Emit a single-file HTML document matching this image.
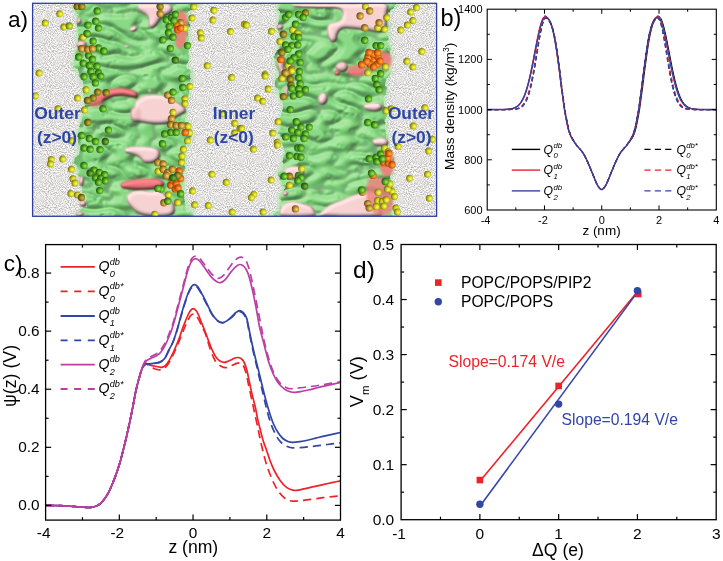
<!DOCTYPE html>
<html><head><meta charset="utf-8"><title>figure</title>
<style>
html,body{margin:0;padding:0;background:#fff;}
body{width:723px;height:561px;overflow:hidden;font-family:"Liberation Sans",sans-serif;}
svg{display:block;position:absolute;left:0;top:0;will-change:transform;}
svg text{font-family:"Liberation Sans",sans-serif;}
</style></head><body>
<svg width="723" height="561" viewBox="0 0 723 561">
<rect x="0" y="0" width="723" height="561" fill="#fff"/>
<g id="panela">
<defs>
<filter id="fnoise" x="0" y="0" width="100%" height="100%" color-interpolation-filters="sRGB">
 <feTurbulence type="fractalNoise" baseFrequency="0.95" numOctaves="1" seed="7" result="n"/>
 <feColorMatrix type="matrix" values="0.78 0 0 0 0.505  0.7683 0 0 0 0.499  0.7683 0 0 0 0.499  0 0 0 0 1"/>
</filter>
<filter id="fmem" x="-5%" y="-5%" width="110%" height="110%" color-interpolation-filters="sRGB">
 <feTurbulence type="turbulence" baseFrequency="0.036 0.072" numOctaves="1" seed="5" result="t"/>
 <feColorMatrix in="t" type="matrix" values="0 0 0 0 0  0 0 0 0 0  0 0 0 0 0  3.0 0 0 0 0" result="h0"/>
 <feGaussianBlur in="h0" stdDeviation="0.9" result="h"/>
 <feDiffuseLighting in="h" surfaceScale="3.4" diffuseConstant="1.0" lighting-color="#ffffff" result="lit">
   <feDistantLight azimuth="235" elevation="55"/>
 </feDiffuseLighting>
 <feComponentTransfer in="lit" result="col">
   <feFuncR type="table" tableValues="0.30 0.36 0.43 0.50 0.67"/>
   <feFuncG type="table" tableValues="0.46 0.58 0.72 0.83 0.915"/>
   <feFuncB type="table" tableValues="0.29 0.35 0.42 0.485 0.64"/>
 </feComponentTransfer>
 <feComponentTransfer in="h" result="cr0">
   <feFuncR type="discrete" tableValues="0.36"/><feFuncG type="discrete" tableValues="0.47"/><feFuncB type="discrete" tableValues="0.36"/>
   <feFuncA type="table" tableValues="0.5 0.32 0.08 0 0 0 0 0 0 0 0 0 0 0 0 0"/>
 </feComponentTransfer>
 <feGaussianBlur in="cr0" stdDeviation="0.6" result="cr"/>
 <feComposite in="cr" in2="col" operator="over" result="col2"/>
 <feTurbulence type="fractalNoise" baseFrequency="0.10" numOctaves="2" seed="3" result="t2"/>
 <feDisplacementMap in="SourceGraphic" in2="t2" scale="10" xChannelSelector="R" yChannelSelector="G" result="mask"/>
 <feGaussianBlur in="mask" stdDeviation="0.7" result="maskb"/>
 <feComposite in="col2" in2="maskb" operator="in"/>
</filter>
<filter id="fpink" x="-20%" y="-20%" width="140%" height="140%" color-interpolation-filters="sRGB">
 <feGaussianBlur in="SourceAlpha" stdDeviation="2.2" result="b"/>
 <feDiffuseLighting in="b" surfaceScale="2.8" diffuseConstant="1.08" lighting-color="#ffffff" result="lit">
   <feDistantLight azimuth="235" elevation="58"/>
 </feDiffuseLighting>
 <feGaussianBlur in="SourceGraphic" stdDeviation="0.8" result="sg"/>
 <feComposite in="lit" in2="sg" operator="arithmetic" k1="1.12" k2="0" k3="0" k4="0" result="m"/>
 <feComposite in="m" in2="sg" operator="in"/>
</filter>
<filter id="ffringe" x="-5%" y="-5%" width="110%" height="110%" color-interpolation-filters="sRGB">
 <feTurbulence type="fractalNoise" baseFrequency="0.10" numOctaves="2" seed="3" result="t2"/>
 <feDisplacementMap in="SourceGraphic" in2="t2" scale="10" xChannelSelector="R" yChannelSelector="G" result="m"/>
 <feGaussianBlur in="m" stdDeviation="1.4"/>
</filter>
<filter id="fblur1"><feGaussianBlur stdDeviation="0.8"/></filter>

<radialGradient id="gy" cx="0.62" cy="0.56" r="0.68" fx="0.67" fy="0.57"><stop offset="0" stop-color="#fbfb80"/><stop offset="0.28" stop-color="#e6e62e"/><stop offset="0.54" stop-color="#c2c11c"/><stop offset="0.80" stop-color="#858412"/><stop offset="1" stop-color="#56560e"/></radialGradient>
<radialGradient id="gg" cx="0.62" cy="0.56" r="0.68" fx="0.67" fy="0.57"><stop offset="0" stop-color="#aee45c"/><stop offset="0.28" stop-color="#74c62c"/><stop offset="0.54" stop-color="#479c1f"/><stop offset="0.80" stop-color="#2a6a14"/><stop offset="1" stop-color="#1b480e"/></radialGradient>
<radialGradient id="go" cx="0.62" cy="0.56" r="0.68" fx="0.67" fy="0.57"><stop offset="0" stop-color="#ffb850"/><stop offset="0.28" stop-color="#f88a20"/><stop offset="0.54" stop-color="#e06410"/><stop offset="0.80" stop-color="#a8440c"/><stop offset="1" stop-color="#6e2c08"/></radialGradient>
<radialGradient id="gt" cx="0.62" cy="0.56" r="0.68" fx="0.67" fy="0.57"><stop offset="0" stop-color="#f2d878"/><stop offset="0.28" stop-color="#dcb044"/><stop offset="0.54" stop-color="#b4882e"/><stop offset="0.80" stop-color="#7c5a1c"/><stop offset="1" stop-color="#523c12"/></radialGradient>
<radialGradient id="gb" cx="0.62" cy="0.56" r="0.68" fx="0.67" fy="0.57"><stop offset="0" stop-color="#d2c248"/><stop offset="0.28" stop-color="#aa9a28"/><stop offset="0.54" stop-color="#84781e"/><stop offset="0.80" stop-color="#564e12"/><stop offset="1" stop-color="#3a340c"/></radialGradient>
<radialGradient id="gl" cx="0.62" cy="0.56" r="0.68" fx="0.67" fy="0.57"><stop offset="0" stop-color="#eaf264"/><stop offset="0.28" stop-color="#c2d82e"/><stop offset="0.54" stop-color="#94b21e"/><stop offset="0.80" stop-color="#5e7c12"/><stop offset="1" stop-color="#3c520c"/></radialGradient>
<radialGradient id="gd" cx="0.62" cy="0.56" r="0.68" fx="0.67" fy="0.57"><stop offset="0" stop-color="#86c24e"/><stop offset="0.28" stop-color="#5a9a2a"/><stop offset="0.54" stop-color="#3f741c"/><stop offset="0.80" stop-color="#285010"/><stop offset="1" stop-color="#1a380a"/></radialGradient>
<clipPath id="ca"><rect x="32.6" y="3.3" width="404.0" height="213.0"/></clipPath>
</defs>
<g clip-path="url(#ca)">
<rect x="32.6" y="3.3" width="404.0" height="213.0" fill="#f4f4f4"/>
<rect x="32.6" y="3.3" width="404.0" height="213.0" fill="#fff" filter="url(#fnoise)"/>
<g filter="url(#ffringe)" opacity="0.75"><path d="M76.00,0.00 C75.83,1.67 74.83,6.67 75.00,10.00 C75.17,13.33 76.50,16.67 77.00,20.00 C77.50,23.33 78.00,26.67 78.00,30.00 C78.00,33.33 77.50,36.67 77.00,40.00 C76.50,43.33 75.50,47.17 75.00,50.00 C74.50,52.83 74.17,54.50 74.00,57.00 C73.83,59.50 73.17,62.50 74.00,65.00 C74.83,67.50 77.67,69.50 79.00,72.00 C80.33,74.50 81.00,77.00 82.00,80.00 C83.00,83.00 84.00,86.67 85.00,90.00 C86.00,93.33 88.00,97.00 88.00,100.00 C88.00,103.00 85.83,105.50 85.00,108.00 C84.17,110.50 83.83,112.17 83.00,115.00 C82.17,117.83 81.00,121.67 80.00,125.00 C79.00,128.33 77.33,132.17 77.00,135.00 C76.67,137.83 77.50,139.50 78.00,142.00 C78.50,144.50 80.17,147.33 80.00,150.00 C79.83,152.67 77.73,155.50 77.00,158.00 C76.27,160.50 75.27,162.67 75.60,165.00 C75.93,167.33 77.77,169.50 79.00,172.00 C80.23,174.50 82.33,177.00 83.00,180.00 C83.67,183.00 82.67,187.00 83.00,190.00 C83.33,193.00 84.50,195.50 85.00,198.00 C85.50,200.50 86.17,201.33 86.00,205.00 C85.83,208.67 67.00,217.50 84.00,220.00 C101.00,222.50 170.67,221.67 188.00,220.00 C205.33,218.33 188.33,212.83 188.00,210.00 C187.67,207.17 187.00,205.50 186.00,203.00 C185.00,200.50 182.38,198.83 182.00,195.00 C181.62,191.17 183.20,184.17 183.70,180.00 C184.20,175.83 184.78,173.33 185.00,170.00 C185.22,166.67 185.00,163.33 185.00,160.00 C185.00,156.67 184.50,153.00 185.00,150.00 C185.50,147.00 187.00,144.50 188.00,142.00 C189.00,139.50 190.67,137.33 191.00,135.00 C191.33,132.67 191.00,130.50 190.00,128.00 C189.00,125.50 185.83,123.00 185.00,120.00 C184.17,117.00 184.72,113.33 185.00,110.00 C185.28,106.67 186.20,102.50 186.70,100.00 C187.20,97.50 187.45,97.50 188.00,95.00 C188.55,92.50 189.67,88.33 190.00,85.00 C190.33,81.67 190.33,78.33 190.00,75.00 C189.67,71.67 188.33,68.33 188.00,65.00 C187.67,61.67 187.83,58.33 188.00,55.00 C188.17,51.67 189.00,49.17 189.00,45.00 C189.00,40.83 188.00,35.00 188.00,30.00 C188.00,25.00 189.00,20.00 189.00,15.00 C189.00,10.00 206.83,2.50 188.00,0.00 C169.17,-2.50 94.67,0.00 76.00,0.00Z" fill="#b4e4ae" stroke="#b4e4ae" stroke-width="5"/><path d="M278.00,0.00 C278.17,2.50 279.17,10.83 279.00,15.00 C278.83,19.17 277.17,21.67 277.00,25.00 C276.83,28.33 277.67,31.67 278.00,35.00 C278.33,38.33 279.17,41.67 279.00,45.00 C278.83,48.33 277.33,51.67 277.00,55.00 C276.67,58.33 276.83,61.67 277.00,65.00 C277.17,68.33 277.83,71.67 278.00,75.00 C278.17,78.33 277.83,81.67 278.00,85.00 C278.17,88.33 278.00,91.67 279.00,95.00 C280.00,98.33 283.50,102.17 284.00,105.00 C284.50,107.83 282.87,109.50 282.00,112.00 C281.13,114.50 279.13,117.00 278.80,120.00 C278.47,123.00 279.63,126.67 280.00,130.00 C280.37,133.33 280.17,136.67 281.00,140.00 C281.83,143.33 284.33,146.67 285.00,150.00 C285.67,153.33 285.67,157.00 285.00,160.00 C284.33,163.00 281.90,165.00 281.00,168.00 C280.10,171.00 279.60,175.17 279.60,178.00 C279.60,180.83 280.27,183.00 281.00,185.00 C281.73,187.00 283.83,188.17 284.00,190.00 C284.17,191.83 282.73,194.00 282.00,196.00 C281.27,198.00 279.93,199.67 279.60,202.00 C279.27,204.33 279.77,207.00 280.00,210.00 C280.23,213.00 262.83,218.33 281.00,220.00 C299.17,221.67 370.83,221.17 389.00,220.00 C407.17,218.83 389.67,215.50 390.00,213.00 C390.33,210.50 390.67,208.00 391.00,205.00 C391.33,202.00 392.00,198.33 392.00,195.00 C392.00,191.67 391.33,188.33 391.00,185.00 C390.67,181.67 389.83,178.33 390.00,175.00 C390.17,171.67 391.83,168.33 392.00,165.00 C392.17,161.67 391.83,158.33 391.00,155.00 C390.17,151.67 387.83,148.33 387.00,145.00 C386.17,141.67 386.33,138.33 386.00,135.00 C385.67,131.67 385.00,128.33 385.00,125.00 C385.00,121.67 385.92,118.33 386.00,115.00 C386.08,111.67 385.67,108.33 385.50,105.00 C385.33,101.67 385.08,98.33 385.00,95.00 C384.92,91.67 384.67,88.33 385.00,85.00 C385.33,81.67 386.17,78.33 387.00,75.00 C387.83,71.67 389.50,68.33 390.00,65.00 C390.50,61.67 390.17,58.33 390.00,55.00 C389.83,51.67 389.33,48.33 389.00,45.00 C388.67,41.67 388.33,38.33 388.00,35.00 C387.67,31.67 387.17,28.33 387.00,25.00 C386.83,21.67 387.00,19.17 387.00,15.00 C387.00,10.83 405.17,2.50 387.00,0.00 C368.83,-2.50 296.17,0.00 278.00,0.00Z" fill="#b4e4ae" stroke="#b4e4ae" stroke-width="5"/></g>
<g filter="url(#fmem)"><path d="M76.00,0.00 C75.83,1.67 74.83,6.67 75.00,10.00 C75.17,13.33 76.50,16.67 77.00,20.00 C77.50,23.33 78.00,26.67 78.00,30.00 C78.00,33.33 77.50,36.67 77.00,40.00 C76.50,43.33 75.50,47.17 75.00,50.00 C74.50,52.83 74.17,54.50 74.00,57.00 C73.83,59.50 73.17,62.50 74.00,65.00 C74.83,67.50 77.67,69.50 79.00,72.00 C80.33,74.50 81.00,77.00 82.00,80.00 C83.00,83.00 84.00,86.67 85.00,90.00 C86.00,93.33 88.00,97.00 88.00,100.00 C88.00,103.00 85.83,105.50 85.00,108.00 C84.17,110.50 83.83,112.17 83.00,115.00 C82.17,117.83 81.00,121.67 80.00,125.00 C79.00,128.33 77.33,132.17 77.00,135.00 C76.67,137.83 77.50,139.50 78.00,142.00 C78.50,144.50 80.17,147.33 80.00,150.00 C79.83,152.67 77.73,155.50 77.00,158.00 C76.27,160.50 75.27,162.67 75.60,165.00 C75.93,167.33 77.77,169.50 79.00,172.00 C80.23,174.50 82.33,177.00 83.00,180.00 C83.67,183.00 82.67,187.00 83.00,190.00 C83.33,193.00 84.50,195.50 85.00,198.00 C85.50,200.50 86.17,201.33 86.00,205.00 C85.83,208.67 67.00,217.50 84.00,220.00 C101.00,222.50 170.67,221.67 188.00,220.00 C205.33,218.33 188.33,212.83 188.00,210.00 C187.67,207.17 187.00,205.50 186.00,203.00 C185.00,200.50 182.38,198.83 182.00,195.00 C181.62,191.17 183.20,184.17 183.70,180.00 C184.20,175.83 184.78,173.33 185.00,170.00 C185.22,166.67 185.00,163.33 185.00,160.00 C185.00,156.67 184.50,153.00 185.00,150.00 C185.50,147.00 187.00,144.50 188.00,142.00 C189.00,139.50 190.67,137.33 191.00,135.00 C191.33,132.67 191.00,130.50 190.00,128.00 C189.00,125.50 185.83,123.00 185.00,120.00 C184.17,117.00 184.72,113.33 185.00,110.00 C185.28,106.67 186.20,102.50 186.70,100.00 C187.20,97.50 187.45,97.50 188.00,95.00 C188.55,92.50 189.67,88.33 190.00,85.00 C190.33,81.67 190.33,78.33 190.00,75.00 C189.67,71.67 188.33,68.33 188.00,65.00 C187.67,61.67 187.83,58.33 188.00,55.00 C188.17,51.67 189.00,49.17 189.00,45.00 C189.00,40.83 188.00,35.00 188.00,30.00 C188.00,25.00 189.00,20.00 189.00,15.00 C189.00,10.00 206.83,2.50 188.00,0.00 C169.17,-2.50 94.67,0.00 76.00,0.00Z" fill="#000"/><path d="M278.00,0.00 C278.17,2.50 279.17,10.83 279.00,15.00 C278.83,19.17 277.17,21.67 277.00,25.00 C276.83,28.33 277.67,31.67 278.00,35.00 C278.33,38.33 279.17,41.67 279.00,45.00 C278.83,48.33 277.33,51.67 277.00,55.00 C276.67,58.33 276.83,61.67 277.00,65.00 C277.17,68.33 277.83,71.67 278.00,75.00 C278.17,78.33 277.83,81.67 278.00,85.00 C278.17,88.33 278.00,91.67 279.00,95.00 C280.00,98.33 283.50,102.17 284.00,105.00 C284.50,107.83 282.87,109.50 282.00,112.00 C281.13,114.50 279.13,117.00 278.80,120.00 C278.47,123.00 279.63,126.67 280.00,130.00 C280.37,133.33 280.17,136.67 281.00,140.00 C281.83,143.33 284.33,146.67 285.00,150.00 C285.67,153.33 285.67,157.00 285.00,160.00 C284.33,163.00 281.90,165.00 281.00,168.00 C280.10,171.00 279.60,175.17 279.60,178.00 C279.60,180.83 280.27,183.00 281.00,185.00 C281.73,187.00 283.83,188.17 284.00,190.00 C284.17,191.83 282.73,194.00 282.00,196.00 C281.27,198.00 279.93,199.67 279.60,202.00 C279.27,204.33 279.77,207.00 280.00,210.00 C280.23,213.00 262.83,218.33 281.00,220.00 C299.17,221.67 370.83,221.17 389.00,220.00 C407.17,218.83 389.67,215.50 390.00,213.00 C390.33,210.50 390.67,208.00 391.00,205.00 C391.33,202.00 392.00,198.33 392.00,195.00 C392.00,191.67 391.33,188.33 391.00,185.00 C390.67,181.67 389.83,178.33 390.00,175.00 C390.17,171.67 391.83,168.33 392.00,165.00 C392.17,161.67 391.83,158.33 391.00,155.00 C390.17,151.67 387.83,148.33 387.00,145.00 C386.17,141.67 386.33,138.33 386.00,135.00 C385.67,131.67 385.00,128.33 385.00,125.00 C385.00,121.67 385.92,118.33 386.00,115.00 C386.08,111.67 385.67,108.33 385.50,105.00 C385.33,101.67 385.08,98.33 385.00,95.00 C384.92,91.67 384.67,88.33 385.00,85.00 C385.33,81.67 386.17,78.33 387.00,75.00 C387.83,71.67 389.50,68.33 390.00,65.00 C390.50,61.67 390.17,58.33 390.00,55.00 C389.83,51.67 389.33,48.33 389.00,45.00 C388.67,41.67 388.33,38.33 388.00,35.00 C387.67,31.67 387.17,28.33 387.00,25.00 C386.83,21.67 387.00,19.17 387.00,15.00 C387.00,10.83 405.17,2.50 387.00,0.00 C368.83,-2.50 296.17,0.00 278.00,0.00Z" fill="#000"/></g>
<g filter="url(#fpink)"><path d="M137.00,3.00 C139.17,3.00 145.50,3.00 150.00,3.00 C154.50,3.00 160.33,2.67 164.00,3.00 C167.67,3.33 170.50,3.67 172.00,5.00 C173.50,6.33 173.50,9.33 173.00,11.00 C172.50,12.67 170.67,14.00 169.00,15.00 C167.33,16.00 164.50,16.00 163.00,17.00 C161.50,18.00 161.00,19.50 160.00,21.00 C159.00,22.50 158.33,24.67 157.00,26.00 C155.67,27.33 153.50,28.83 152.00,29.00 C150.50,29.17 148.67,28.33 148.00,27.00 C147.33,25.67 148.33,22.83 148.00,21.00 C147.67,19.17 147.17,17.33 146.00,16.00 C144.83,14.67 142.50,14.17 141.00,13.00 C139.50,11.83 137.67,10.67 137.00,9.00 C136.33,7.33 137.00,4.00 137.00,3.00Z" fill="#f0cccc" opacity="1.00"/><ellipse cx="133.5" cy="29.0" rx="5.0" ry="3.5" fill="#f0cccc" opacity="1.00" transform="rotate(-20.0 133.5 29.0)"/><ellipse cx="126.6" cy="46.4" rx="3.0" ry="2.0" fill="#f0cccc" opacity="1.00" transform="rotate(0.0 126.6 46.4)"/><ellipse cx="81.5" cy="44.5" rx="6.0" ry="4.5" fill="#e6baba" opacity="1.00" transform="rotate(0.0 81.5 44.5)"/><ellipse cx="79.0" cy="21.0" rx="3.0" ry="4.0" fill="#e6baba" opacity="1.00" transform="rotate(0.0 79.0 21.0)"/><ellipse cx="81.0" cy="7.0" rx="4.0" ry="3.0" fill="#e6baba" opacity="1.00" transform="rotate(0.0 81.0 7.0)"/><path d="M135.00,101.00 C136.17,100.17 139.17,97.17 142.00,96.00 C144.83,94.83 148.33,94.17 152.00,94.00 C155.67,93.83 160.67,94.17 164.00,95.00 C167.33,95.83 169.33,97.67 172.00,99.00 C174.67,100.33 177.67,101.50 180.00,103.00 C182.33,104.50 185.00,106.33 186.00,108.00 C187.00,109.67 187.00,111.67 186.00,113.00 C185.00,114.33 182.00,114.83 180.00,116.00 C178.00,117.17 176.00,118.67 174.00,120.00 C172.00,121.33 170.67,123.17 168.00,124.00 C165.33,124.83 161.67,125.00 158.00,125.00 C154.33,125.00 149.50,124.67 146.00,124.00 C142.50,123.33 139.17,123.00 137.00,121.00 C134.83,119.00 133.33,115.33 133.00,112.00 C132.67,108.67 134.67,102.83 135.00,101.00Z" fill="#f0cccc" opacity="1.00"/><ellipse cx="149.5" cy="90.5" rx="2.5" ry="1.8" fill="#f0cccc" opacity="1.00" transform="rotate(0.0 149.5 90.5)"/><path d="M131.00,108.00 C132.00,107.83 135.33,106.33 137.00,107.00 C138.67,107.67 140.50,109.83 141.00,112.00 C141.50,114.17 141.17,118.17 140.00,120.00 C138.83,121.83 135.67,123.50 134.00,123.00 C132.33,122.50 130.50,119.50 130.00,117.00 C129.50,114.50 130.83,109.50 131.00,108.00Z" fill="#e6baba" opacity="1.00"/><path d="M124.00,148.00 C125.33,147.67 128.50,146.33 132.00,146.00 C135.50,145.67 140.83,145.67 145.00,146.00 C149.17,146.33 154.33,146.67 157.00,148.00 C159.67,149.33 160.83,151.83 161.00,154.00 C161.17,156.17 159.83,159.33 158.00,161.00 C156.17,162.67 152.50,163.67 150.00,164.00 C147.50,164.33 144.83,164.00 143.00,163.00 C141.17,162.00 141.00,159.33 139.00,158.00 C137.00,156.67 133.33,155.83 131.00,155.00 C128.67,154.17 126.17,154.17 125.00,153.00 C123.83,151.83 124.17,148.83 124.00,148.00Z" fill="#f0cccc" opacity="1.00"/><path d="M127.00,194.00 C128.17,193.33 131.50,190.75 134.00,190.00 C136.50,189.25 139.33,189.33 142.00,189.50 C144.67,189.67 147.50,190.92 150.00,191.00 C152.50,191.08 154.67,189.67 157.00,190.00 C159.33,190.33 161.83,191.67 164.00,193.00 C166.17,194.33 168.17,196.00 170.00,198.00 C171.83,200.00 174.17,202.50 175.00,205.00 C175.83,207.50 176.17,211.00 175.00,213.00 C173.83,215.00 172.17,216.33 168.00,217.00 C163.83,217.67 155.00,217.50 150.00,217.00 C145.00,216.50 141.33,215.67 138.00,214.00 C134.67,212.33 132.00,209.33 130.00,207.00 C128.00,204.67 126.50,202.17 126.00,200.00 C125.50,197.83 126.83,195.00 127.00,194.00Z" fill="#f0cccc" opacity="1.00"/><ellipse cx="81.5" cy="181.0" rx="3.2" ry="6.0" fill="#e6baba" opacity="1.00" transform="rotate(0.0 81.5 181.0)"/><ellipse cx="83.0" cy="203.5" rx="4.5" ry="4.0" fill="#e6baba" opacity="1.00" transform="rotate(0.0 83.0 203.5)"/><ellipse cx="80.0" cy="214.0" rx="5.0" ry="3.0" fill="#e6baba" opacity="1.00" transform="rotate(0.0 80.0 214.0)"/><path d="M292.00,3.00 C296.67,3.00 310.33,3.00 320.00,3.00 C329.67,3.00 339.00,3.00 350.00,3.00 C361.00,3.00 379.75,0.83 386.00,3.00 C392.25,5.17 387.42,11.67 387.50,16.00 C387.58,20.33 387.92,26.17 386.50,29.00 C385.08,31.83 382.42,32.67 379.00,33.00 C375.58,33.33 370.50,31.58 366.00,31.00 C361.50,30.42 355.83,29.75 352.00,29.50 C348.17,29.25 345.25,28.75 343.00,29.50 C340.75,30.25 339.50,32.08 338.50,34.00 C337.50,35.92 338.17,39.50 337.00,41.00 C335.83,42.50 333.08,43.67 331.50,43.00 C329.92,42.33 328.33,39.50 327.50,37.00 C326.67,34.50 326.25,30.33 326.50,28.00 C326.75,25.67 327.58,24.08 329.00,23.00 C330.42,21.92 333.08,22.17 335.00,21.50 C336.92,20.83 339.33,20.42 340.50,19.00 C341.67,17.58 342.42,14.58 342.00,13.00 C341.58,11.42 341.33,10.17 338.00,9.50 C334.67,8.83 327.33,9.17 322.00,9.00 C316.67,8.83 310.83,8.83 306.00,8.50 C301.17,8.17 295.33,7.92 293.00,7.00 C290.67,6.08 292.17,3.67 292.00,3.00Z" fill="#f0cccc" opacity="1.00"/><ellipse cx="280.0" cy="27.0" rx="4.0" ry="3.5" fill="#e6baba" opacity="1.00" transform="rotate(0.0 280.0 27.0)"/><ellipse cx="281.0" cy="63.0" rx="4.5" ry="10.0" fill="#e6baba" opacity="1.00" transform="rotate(0.0 281.0 63.0)"/><ellipse cx="342.0" cy="67.0" rx="7.0" ry="6.0" fill="#e6baba" opacity="1.00" transform="rotate(0.0 342.0 67.0)"/><ellipse cx="287.0" cy="73.5" rx="8.0" ry="3.5" fill="#e6baba" opacity="1.00" transform="rotate(0.0 287.0 73.5)"/><ellipse cx="286.3" cy="92.0" rx="2.5" ry="8.0" fill="#e6baba" opacity="1.00" transform="rotate(0.0 286.3 92.0)"/><ellipse cx="322.9" cy="98.9" rx="5.5" ry="7.0" fill="#f0cccc" opacity="1.00" transform="rotate(15.0 322.9 98.9)"/><path d="M363.00,104.00 C364.50,103.67 369.00,102.17 372.00,102.00 C375.00,101.83 379.17,102.00 381.00,103.00 C382.83,104.00 383.50,106.50 383.00,108.00 C382.50,109.50 380.17,111.33 378.00,112.00 C375.83,112.67 372.33,112.50 370.00,112.00 C367.67,111.50 365.17,110.33 364.00,109.00 C362.83,107.67 363.17,104.83 363.00,104.00Z" fill="#f0cccc" opacity="1.00"/><path d="M372.00,139.00 C373.33,138.67 377.33,137.00 380.00,137.00 C382.67,137.00 386.67,137.50 388.00,139.00 C389.33,140.50 389.33,144.67 388.00,146.00 C386.67,147.33 382.50,147.17 380.00,147.00 C377.50,146.83 374.33,146.33 373.00,145.00 C371.67,143.67 372.17,140.00 372.00,139.00Z" fill="#f0cccc" opacity="1.00"/><path d="M284.00,168.00 C285.33,167.58 289.17,165.75 292.00,165.50 C294.83,165.25 298.83,165.58 301.00,166.50 C303.17,167.42 304.67,169.25 305.00,171.00 C305.33,172.75 304.50,175.50 303.00,177.00 C301.50,178.50 298.50,179.67 296.00,180.00 C293.50,180.33 290.00,180.00 288.00,179.00 C286.00,178.00 284.67,175.83 284.00,174.00 C283.33,172.17 284.00,169.00 284.00,168.00Z" fill="#f0cccc" opacity="1.00"/><ellipse cx="285.5" cy="193.5" rx="3.2" ry="3.2" fill="#e6baba" opacity="1.00" transform="rotate(0.0 285.5 193.5)"/><path d="M281.00,205.00 C282.50,204.33 286.83,201.50 290.00,201.00 C293.17,200.50 296.33,201.17 300.00,202.00 C303.67,202.83 309.33,204.33 312.00,206.00 C314.67,207.67 315.67,210.17 316.00,212.00 C316.33,213.83 319.83,216.17 314.00,217.00 C308.17,217.83 286.50,219.00 281.00,217.00 C275.50,215.00 281.00,207.00 281.00,205.00Z" fill="#f0cccc" opacity="1.00"/><path d="M322.00,210.00 C323.33,209.00 327.00,205.67 330.00,204.00 C333.00,202.33 336.33,201.50 340.00,200.00 C343.67,198.50 348.00,196.33 352.00,195.00 C356.00,193.67 360.17,192.50 364.00,192.00 C367.83,191.50 372.17,191.00 375.00,192.00 C377.83,193.00 380.00,195.33 381.00,198.00 C382.00,200.67 381.50,204.83 381.00,208.00 C380.50,211.17 387.83,215.50 378.00,217.00 C368.17,218.50 331.33,218.17 322.00,217.00 C312.67,215.83 322.00,211.17 322.00,210.00Z" fill="#f0cccc" opacity="1.00"/></g>
<g filter="url(#fpink)"><path d="M88.00,98.00 C89.00,97.33 91.67,95.17 94.00,94.00 C96.33,92.83 99.17,91.92 102.00,91.00 C104.83,90.08 107.83,89.08 111.00,88.50 C114.17,87.92 117.83,87.42 121.00,87.50 C124.17,87.58 127.33,88.25 130.00,89.00 C132.67,89.75 135.75,90.83 137.00,92.00 C138.25,93.17 138.33,95.00 137.50,96.00 C136.67,97.00 134.25,97.92 132.00,98.00 C129.75,98.08 126.83,96.67 124.00,96.50 C121.17,96.33 117.83,96.42 115.00,97.00 C112.17,97.58 109.50,98.83 107.00,100.00 C104.50,101.17 102.33,103.00 100.00,104.00 C97.67,105.00 95.00,106.17 93.00,106.00 C91.00,105.83 88.83,104.33 88.00,103.00 C87.17,101.67 88.00,98.83 88.00,98.00Z" fill="#e8757a" opacity="1.00"/><path d="M120.00,183.00 C121.33,182.50 125.00,180.75 128.00,180.00 C131.00,179.25 134.33,178.83 138.00,178.50 C141.67,178.17 146.33,177.92 150.00,178.00 C153.67,178.08 157.50,178.17 160.00,179.00 C162.50,179.83 164.67,181.50 165.00,183.00 C165.33,184.50 164.17,186.83 162.00,188.00 C159.83,189.17 155.67,189.58 152.00,190.00 C148.33,190.42 143.83,190.50 140.00,190.50 C136.17,190.50 132.17,190.42 129.00,190.00 C125.83,189.58 122.50,189.17 121.00,188.00 C119.50,186.83 120.17,183.83 120.00,183.00Z" fill="#e8757a" opacity="1.00"/><ellipse cx="136.0" cy="95.0" rx="2.5" ry="4.0" fill="#e8757a" opacity="1.00" transform="rotate(0.0 136.0 95.0)"/><ellipse cx="337.0" cy="73.0" rx="3.5" ry="3.0" fill="#e8757a" opacity="1.00" transform="rotate(0.0 337.0 73.0)"/><path d="M347.00,70.00 C348.50,69.83 353.17,69.00 356.00,69.00 C358.83,69.00 362.67,69.17 364.00,70.00 C365.33,70.83 365.50,73.17 364.00,74.00 C362.50,74.83 357.67,75.00 355.00,75.00 C352.33,75.00 349.33,74.83 348.00,74.00 C346.67,73.17 347.17,70.67 347.00,70.00Z" fill="#e8757a" opacity="1.00"/></g>
<g filter="url(#fblur1)"><path d="M175.00,12.00 C176.17,11.83 180.00,10.17 182.00,11.00 C184.00,11.83 186.17,13.83 187.00,17.00 C187.83,20.17 187.33,25.83 187.00,30.00 C186.67,34.17 186.00,38.83 185.00,42.00 C184.00,45.17 182.50,48.50 181.00,49.00 C179.50,49.50 177.00,47.33 176.00,45.00 C175.00,42.67 175.33,38.83 175.00,35.00 C174.67,31.17 174.00,25.83 174.00,22.00 C174.00,18.17 174.83,13.67 175.00,12.00Z" fill="#f07c7c" opacity="0.92"/><path d="M381.00,53.00 C382.00,52.83 385.33,51.33 387.00,52.00 C388.67,52.67 390.33,55.00 391.00,57.00 C391.67,59.00 391.67,62.00 391.00,64.00 C390.33,66.00 388.67,68.33 387.00,69.00 C385.33,69.67 382.33,69.50 381.00,68.00 C379.67,66.50 379.00,62.50 379.00,60.00 C379.00,57.50 380.67,54.17 381.00,53.00Z" fill="#f07c7c" opacity="0.95"/><path d="M349.00,66.00 C350.33,65.83 354.17,64.83 357.00,65.00 C359.83,65.17 364.50,65.50 366.00,67.00 C367.50,68.50 367.50,72.50 366.00,74.00 C364.50,75.50 359.83,76.00 357.00,76.00 C354.17,76.00 350.33,75.67 349.00,74.00 C347.67,72.33 349.00,67.33 349.00,66.00Z" fill="#f07c7c" opacity="0.85"/><path d="M381.00,151.00 C382.17,150.83 386.00,149.17 388.00,150.00 C390.00,150.83 392.00,153.33 393.00,156.00 C394.00,158.67 394.33,163.00 394.00,166.00 C393.67,169.00 392.67,172.33 391.00,174.00 C389.33,175.67 385.83,177.00 384.00,176.00 C382.17,175.00 380.67,171.00 380.00,168.00 C379.33,165.00 379.83,160.83 380.00,158.00 C380.17,155.17 380.83,152.17 381.00,151.00Z" fill="#f07c7c" opacity="0.90"/><path d="M368.00,180.00 C369.33,179.50 373.17,177.17 376.00,177.00 C378.83,176.83 382.50,177.50 385.00,179.00 C387.50,180.50 389.67,182.83 391.00,186.00 C392.33,189.17 392.83,194.00 393.00,198.00 C393.17,202.00 393.17,207.17 392.00,210.00 C390.83,212.83 388.67,214.33 386.00,215.00 C383.33,215.67 378.83,215.50 376.00,214.00 C373.17,212.50 370.67,209.50 369.00,206.00 C367.33,202.50 366.17,197.33 366.00,193.00 C365.83,188.67 367.67,182.17 368.00,180.00Z" fill="#f07c7c" opacity="0.80"/><path d="M87.00,97.00 C88.33,96.67 92.50,94.83 95.00,95.00 C97.50,95.17 101.00,96.33 102.00,98.00 C103.00,99.67 102.33,103.50 101.00,105.00 C99.67,106.50 96.17,107.17 94.00,107.00 C91.83,106.83 89.17,105.67 88.00,104.00 C86.83,102.33 87.17,98.17 87.00,97.00Z" fill="#f07c7c" opacity="0.70"/></g>
<g><circle cx="59.7" cy="13.7" r="3.50" fill="url(#gy)"/><circle cx="45.2" cy="23.1" r="3.50" fill="url(#gy)"/><circle cx="63.8" cy="27.1" r="3.50" fill="url(#gy)"/><circle cx="82.9" cy="37.3" r="3.50" fill="url(#gy)"/><circle cx="39.1" cy="73.0" r="3.50" fill="url(#gy)"/><circle cx="69.3" cy="25.9" r="3.70" fill="url(#gl)"/><circle cx="77.2" cy="6.4" r="3.70" fill="url(#gb)"/><circle cx="81.7" cy="6.4" r="3.70" fill="url(#gb)"/><circle cx="97.2" cy="11.0" r="3.70" fill="url(#gg)"/><circle cx="95.7" cy="21.3" r="3.70" fill="url(#gg)"/><circle cx="87.8" cy="25.1" r="3.70" fill="url(#gg)"/><circle cx="98.5" cy="28.1" r="3.70" fill="url(#gg)"/><circle cx="87.0" cy="33.5" r="3.70" fill="url(#gg)"/><circle cx="93.1" cy="41.1" r="3.70" fill="url(#gg)"/><circle cx="98.5" cy="47.9" r="3.70" fill="url(#gg)"/><circle cx="103.8" cy="51.0" r="3.70" fill="url(#gg)"/><circle cx="78.7" cy="57.0" r="3.70" fill="url(#gg)"/><circle cx="83.2" cy="63.1" r="3.70" fill="url(#gg)"/><circle cx="88.6" cy="55.5" r="3.70" fill="url(#gg)"/><circle cx="92.4" cy="59.3" r="3.70" fill="url(#gg)"/><circle cx="89.3" cy="65.4" r="3.70" fill="url(#gg)"/><circle cx="96.9" cy="66.2" r="3.70" fill="url(#gg)"/><circle cx="90.9" cy="71.5" r="3.70" fill="url(#gg)"/><circle cx="98.5" cy="73.0" r="3.70" fill="url(#gg)"/><circle cx="81.7" cy="48.7" r="3.70" fill="url(#gt)"/><circle cx="87.8" cy="49.4" r="3.70" fill="url(#gt)"/><circle cx="92.4" cy="48.7" r="3.70" fill="url(#gt)"/><circle cx="193.6" cy="6.8" r="3.50" fill="url(#gy)"/><circle cx="213.8" cy="10.3" r="3.50" fill="url(#gy)"/><circle cx="192.0" cy="18.0" r="3.50" fill="url(#gy)"/><circle cx="212.9" cy="20.1" r="3.50" fill="url(#gy)"/><circle cx="200.4" cy="32.7" r="3.50" fill="url(#gy)"/><circle cx="201.2" cy="38.0" r="3.50" fill="url(#gy)"/><circle cx="230.5" cy="31.6" r="3.50" fill="url(#gy)"/><circle cx="207.3" cy="65.7" r="3.50" fill="url(#gy)"/><circle cx="244.5" cy="24.3" r="3.50" fill="url(#gy)"/><circle cx="184.4" cy="28.1" r="3.50" fill="url(#gy)"/><circle cx="160.1" cy="6.4" r="3.70" fill="url(#gb)"/><circle cx="160.1" cy="13.7" r="3.70" fill="url(#gt)"/><circle cx="180.6" cy="22.8" r="3.70" fill="url(#gt)"/><circle cx="176.8" cy="25.1" r="3.70" fill="url(#go)"/><circle cx="177.6" cy="29.7" r="3.70" fill="url(#go)"/><circle cx="180.6" cy="28.1" r="3.70" fill="url(#go)"/><circle cx="166.2" cy="19.8" r="3.70" fill="url(#gg)"/><circle cx="171.5" cy="17.5" r="3.70" fill="url(#gg)"/><circle cx="175.3" cy="14.5" r="3.70" fill="url(#gg)"/><circle cx="169.2" cy="26.6" r="3.70" fill="url(#gg)"/><circle cx="168.5" cy="32.7" r="3.70" fill="url(#gg)"/><circle cx="173.0" cy="37.3" r="3.70" fill="url(#gg)"/><circle cx="162.8" cy="39.9" r="3.70" fill="url(#gg)"/><circle cx="170.3" cy="48.4" r="3.70" fill="url(#gg)"/><circle cx="173.8" cy="20.5" r="3.70" fill="url(#gg)"/><circle cx="187.5" cy="45.6" r="3.70" fill="url(#gg)"/><circle cx="175.3" cy="60.1" r="3.70" fill="url(#gd)"/><circle cx="246.4" cy="25.1" r="3.50" fill="url(#gy)"/><circle cx="271.5" cy="31.2" r="3.50" fill="url(#gy)"/><circle cx="292.5" cy="29.7" r="3.50" fill="url(#gy)"/><circle cx="297.5" cy="33.2" r="3.50" fill="url(#gy)"/><circle cx="279.9" cy="41.4" r="3.50" fill="url(#gy)"/><circle cx="287.9" cy="65.4" r="3.50" fill="url(#gy)"/><circle cx="265.1" cy="74.5" r="3.50" fill="url(#gy)"/><circle cx="291.7" cy="69.2" r="3.70" fill="url(#gt)"/><circle cx="284.9" cy="73.0" r="3.70" fill="url(#gt)"/><circle cx="283.4" cy="34.2" r="3.70" fill="url(#gb)"/><circle cx="281.8" cy="52.5" r="3.70" fill="url(#gb)"/><circle cx="305.4" cy="12.9" r="3.70" fill="url(#gb)"/><circle cx="280.8" cy="59.6" r="3.70" fill="url(#go)"/><circle cx="285.6" cy="17.5" r="3.70" fill="url(#gg)"/><circle cx="288.7" cy="14.5" r="3.70" fill="url(#gg)"/><circle cx="298.6" cy="14.5" r="3.70" fill="url(#gg)"/><circle cx="303.1" cy="17.5" r="3.70" fill="url(#gg)"/><circle cx="295.5" cy="24.3" r="3.70" fill="url(#gg)"/><circle cx="294.0" cy="36.5" r="3.70" fill="url(#gg)"/><circle cx="298.6" cy="37.3" r="3.70" fill="url(#gg)"/><circle cx="285.6" cy="44.9" r="3.70" fill="url(#gg)"/><circle cx="291.7" cy="45.6" r="3.70" fill="url(#gg)"/><circle cx="297.8" cy="44.9" r="3.70" fill="url(#gg)"/><circle cx="287.9" cy="49.4" r="3.70" fill="url(#gg)"/><circle cx="298.6" cy="54.0" r="3.70" fill="url(#gg)"/><circle cx="294.0" cy="57.8" r="3.70" fill="url(#gg)"/><circle cx="290.2" cy="60.9" r="3.70" fill="url(#gg)"/><circle cx="300.1" cy="62.4" r="3.70" fill="url(#gg)"/><circle cx="299.3" cy="71.5" r="3.70" fill="url(#gg)"/><circle cx="365.4" cy="6.4" r="3.50" fill="url(#gy)"/><circle cx="386.7" cy="17.5" r="3.50" fill="url(#gy)"/><circle cx="377.6" cy="27.7" r="3.50" fill="url(#gy)"/><circle cx="384.4" cy="29.2" r="3.50" fill="url(#gy)"/><circle cx="416.4" cy="7.6" r="3.50" fill="url(#gy)"/><circle cx="410.6" cy="11.9" r="3.50" fill="url(#gy)"/><circle cx="412.9" cy="20.5" r="3.50" fill="url(#gy)"/><circle cx="407.3" cy="25.1" r="3.50" fill="url(#gy)"/><circle cx="400.7" cy="30.0" r="3.50" fill="url(#gy)"/><circle cx="421.7" cy="51.4" r="3.50" fill="url(#gy)"/><circle cx="406.8" cy="61.3" r="3.50" fill="url(#gy)"/><circle cx="412.9" cy="66.9" r="3.50" fill="url(#gy)"/><circle cx="385.2" cy="66.6" r="3.50" fill="url(#gy)"/><circle cx="367.7" cy="72.7" r="3.50" fill="url(#gy)"/><circle cx="369.7" cy="11.0" r="3.70" fill="url(#gt)"/><circle cx="360.1" cy="16.0" r="3.70" fill="url(#gt)"/><circle cx="364.7" cy="27.7" r="3.70" fill="url(#gt)"/><circle cx="379.1" cy="22.8" r="3.70" fill="url(#gt)"/><circle cx="364.7" cy="40.3" r="3.70" fill="url(#gg)"/><circle cx="376.1" cy="45.6" r="3.70" fill="url(#gg)"/><circle cx="380.6" cy="45.6" r="3.70" fill="url(#gg)"/><circle cx="373.0" cy="60.1" r="3.70" fill="url(#go)"/><circle cx="368.0" cy="57.0" r="3.70" fill="url(#go)"/><circle cx="378.0" cy="57.0" r="3.70" fill="url(#go)"/><circle cx="370.0" cy="64.0" r="3.70" fill="url(#go)"/><circle cx="377.0" cy="64.5" r="3.70" fill="url(#go)"/><circle cx="373.0" cy="54.0" r="3.70" fill="url(#go)"/><circle cx="366.5" cy="61.5" r="3.70" fill="url(#go)"/><circle cx="380.0" cy="61.0" r="3.70" fill="url(#go)"/><circle cx="373.5" cy="67.0" r="3.70" fill="url(#go)"/><circle cx="361.6" cy="64.7" r="3.70" fill="url(#go)"/><circle cx="369.0" cy="52.5" r="3.70" fill="url(#go)"/><circle cx="377.5" cy="52.8" r="3.70" fill="url(#go)"/><circle cx="35.3" cy="95.9" r="3.50" fill="url(#gy)"/><circle cx="77.5" cy="98.1" r="3.50" fill="url(#gy)"/><circle cx="86.0" cy="89.8" r="3.50" fill="url(#gy)"/><circle cx="84.5" cy="109.9" r="3.50" fill="url(#gy)"/><circle cx="58.1" cy="108.8" r="3.50" fill="url(#gy)"/><circle cx="71.8" cy="140.7" r="3.50" fill="url(#gy)"/><circle cx="97.7" cy="92.1" r="3.70" fill="url(#gb)"/><circle cx="106.1" cy="92.8" r="3.70" fill="url(#gb)"/><circle cx="93.1" cy="98.1" r="3.70" fill="url(#gb)"/><circle cx="87.5" cy="100.4" r="3.70" fill="url(#gb)"/><circle cx="87.8" cy="122.5" r="3.70" fill="url(#gb)"/><circle cx="84.0" cy="76.8" r="3.70" fill="url(#gg)"/><circle cx="93.1" cy="76.8" r="3.70" fill="url(#gg)"/><circle cx="100.7" cy="76.1" r="3.70" fill="url(#gg)"/><circle cx="95.4" cy="82.9" r="3.70" fill="url(#gg)"/><circle cx="103.0" cy="108.8" r="3.70" fill="url(#gg)"/><circle cx="108.4" cy="130.1" r="3.70" fill="url(#gg)"/><circle cx="81.7" cy="135.4" r="3.70" fill="url(#gg)"/><circle cx="89.3" cy="138.5" r="3.70" fill="url(#gg)"/><circle cx="95.4" cy="141.5" r="3.70" fill="url(#gg)"/><circle cx="105.3" cy="141.5" r="3.70" fill="url(#gd)"/><circle cx="231.6" cy="77.6" r="3.50" fill="url(#gy)"/><circle cx="189.8" cy="86.4" r="3.50" fill="url(#gy)"/><circle cx="184.9" cy="98.9" r="3.50" fill="url(#gy)"/><circle cx="184.9" cy="103.5" r="3.50" fill="url(#gy)"/><circle cx="173.0" cy="112.3" r="3.50" fill="url(#gy)"/><circle cx="187.9" cy="126.3" r="3.50" fill="url(#gy)"/><circle cx="189.5" cy="132.7" r="3.50" fill="url(#gy)"/><circle cx="187.5" cy="140.7" r="3.50" fill="url(#gy)"/><circle cx="234.7" cy="123.2" r="3.50" fill="url(#gy)"/><circle cx="240.0" cy="128.6" r="3.50" fill="url(#gy)"/><circle cx="234.7" cy="133.1" r="3.50" fill="url(#gy)"/><circle cx="210.3" cy="140.0" r="3.50" fill="url(#gy)"/><circle cx="222.5" cy="114.1" r="3.50" fill="url(#gy)"/><circle cx="167.7" cy="95.1" r="3.70" fill="url(#gt)"/><circle cx="171.5" cy="100.4" r="3.70" fill="url(#gt)"/><circle cx="171.5" cy="118.7" r="3.70" fill="url(#gt)"/><circle cx="170.8" cy="124.8" r="3.70" fill="url(#gt)"/><circle cx="176.1" cy="125.5" r="3.70" fill="url(#gt)"/><circle cx="181.4" cy="125.5" r="3.70" fill="url(#gt)"/><circle cx="185.2" cy="132.4" r="3.70" fill="url(#go)"/><circle cx="182.2" cy="78.4" r="3.70" fill="url(#gg)"/><circle cx="182.9" cy="87.5" r="3.70" fill="url(#gg)"/><circle cx="173.0" cy="92.1" r="3.70" fill="url(#gg)"/><circle cx="164.7" cy="133.9" r="3.70" fill="url(#gg)"/><circle cx="170.8" cy="132.4" r="3.70" fill="url(#gg)"/><circle cx="176.1" cy="132.4" r="3.70" fill="url(#gg)"/><circle cx="162.4" cy="143.8" r="3.70" fill="url(#gg)"/><circle cx="265.1" cy="76.1" r="3.50" fill="url(#gy)"/><circle cx="268.1" cy="89.0" r="3.50" fill="url(#gy)"/><circle cx="257.5" cy="98.1" r="3.50" fill="url(#gy)"/><circle cx="262.8" cy="101.2" r="3.50" fill="url(#gy)"/><circle cx="278.0" cy="121.7" r="3.50" fill="url(#gy)"/><circle cx="272.7" cy="133.1" r="3.50" fill="url(#gy)"/><circle cx="277.3" cy="142.3" r="3.50" fill="url(#gy)"/><circle cx="241.5" cy="128.6" r="3.50" fill="url(#gy)"/><circle cx="281.8" cy="78.4" r="3.50" fill="url(#gy)"/><circle cx="291.7" cy="70.8" r="3.50" fill="url(#gy)"/><circle cx="285.6" cy="73.0" r="3.70" fill="url(#gt)"/><circle cx="290.2" cy="79.1" r="3.70" fill="url(#gb)"/><circle cx="283.4" cy="96.6" r="3.70" fill="url(#gb)"/><circle cx="291.0" cy="85.2" r="3.70" fill="url(#gb)"/><circle cx="298.6" cy="77.6" r="3.70" fill="url(#gg)"/><circle cx="300.1" cy="83.7" r="3.70" fill="url(#gg)"/><circle cx="291.7" cy="88.3" r="3.70" fill="url(#gg)"/><circle cx="298.6" cy="89.0" r="3.70" fill="url(#gg)"/><circle cx="305.4" cy="89.8" r="3.70" fill="url(#gg)"/><circle cx="293.3" cy="95.9" r="3.70" fill="url(#gg)"/><circle cx="299.3" cy="94.3" r="3.70" fill="url(#gg)"/><circle cx="290.2" cy="109.6" r="3.70" fill="url(#gg)"/><circle cx="296.3" cy="121.7" r="3.70" fill="url(#gg)"/><circle cx="300.9" cy="127.1" r="3.70" fill="url(#gg)"/><circle cx="309.2" cy="127.1" r="3.70" fill="url(#gg)"/><circle cx="291.7" cy="130.1" r="3.70" fill="url(#gg)"/><circle cx="297.8" cy="132.4" r="3.70" fill="url(#gg)"/><circle cx="305.4" cy="133.9" r="3.70" fill="url(#gg)"/><circle cx="285.6" cy="136.9" r="3.70" fill="url(#gg)"/><circle cx="293.3" cy="138.5" r="3.70" fill="url(#gg)"/><circle cx="303.9" cy="138.5" r="3.70" fill="url(#gg)"/><circle cx="386.0" cy="110.8" r="3.50" fill="url(#gy)"/><circle cx="391.3" cy="108.8" r="3.50" fill="url(#gy)"/><circle cx="424.8" cy="107.7" r="3.50" fill="url(#gy)"/><circle cx="413.4" cy="126.0" r="3.50" fill="url(#gy)"/><circle cx="432.4" cy="139.2" r="3.50" fill="url(#gy)"/><circle cx="375.3" cy="78.4" r="3.70" fill="url(#gg)"/><circle cx="380.6" cy="73.8" r="3.70" fill="url(#gg)"/><circle cx="376.8" cy="84.5" r="3.70" fill="url(#gg)"/><circle cx="379.1" cy="89.8" r="3.70" fill="url(#gg)"/><circle cx="368.5" cy="98.9" r="3.70" fill="url(#gg)"/><circle cx="367.7" cy="122.5" r="3.70" fill="url(#gg)"/><circle cx="374.6" cy="124.8" r="3.70" fill="url(#gg)"/><circle cx="51.3" cy="159.5" r="3.50" fill="url(#gy)"/><circle cx="50.5" cy="164.0" r="3.50" fill="url(#gy)"/><circle cx="62.7" cy="159.0" r="3.50" fill="url(#gy)"/><circle cx="71.4" cy="169.3" r="3.50" fill="url(#gy)"/><circle cx="72.9" cy="178.8" r="3.50" fill="url(#gy)"/><circle cx="74.9" cy="183.0" r="3.50" fill="url(#gy)"/><circle cx="70.8" cy="193.4" r="3.50" fill="url(#gy)"/><circle cx="77.5" cy="194.9" r="3.50" fill="url(#gy)"/><circle cx="81.4" cy="197.5" r="3.70" fill="url(#gb)"/><circle cx="84.0" cy="148.0" r="3.70" fill="url(#gg)"/><circle cx="90.1" cy="149.3" r="3.70" fill="url(#gg)"/><circle cx="100.0" cy="149.6" r="3.70" fill="url(#gg)"/><circle cx="84.0" cy="165.5" r="3.70" fill="url(#gg)"/><circle cx="93.9" cy="170.1" r="3.70" fill="url(#gg)"/><circle cx="99.2" cy="172.4" r="3.70" fill="url(#gg)"/><circle cx="104.5" cy="174.7" r="3.70" fill="url(#gg)"/><circle cx="95.4" cy="177.7" r="3.70" fill="url(#gg)"/><circle cx="100.7" cy="178.5" r="3.70" fill="url(#gg)"/><circle cx="105.3" cy="180.8" r="3.70" fill="url(#gg)"/><circle cx="98.5" cy="182.3" r="3.70" fill="url(#gg)"/><circle cx="99.7" cy="190.6" r="3.70" fill="url(#gg)"/><circle cx="90.1" cy="173.1" r="3.70" fill="url(#gd)"/><circle cx="211.8" cy="174.2" r="3.50" fill="url(#gy)"/><circle cx="226.3" cy="182.3" r="3.50" fill="url(#gy)"/><circle cx="192.5" cy="191.1" r="3.50" fill="url(#gy)"/><circle cx="194.6" cy="204.8" r="3.50" fill="url(#gy)"/><circle cx="208.3" cy="205.4" r="3.50" fill="url(#gy)"/><circle cx="232.1" cy="211.9" r="3.50" fill="url(#gy)"/><circle cx="183.4" cy="149.3" r="3.50" fill="url(#gy)"/><circle cx="181.9" cy="156.0" r="3.50" fill="url(#gy)"/><circle cx="181.4" cy="162.5" r="3.50" fill="url(#gy)"/><circle cx="158.1" cy="171.2" r="3.50" fill="url(#gy)"/><circle cx="168.2" cy="194.9" r="3.50" fill="url(#gy)"/><circle cx="177.6" cy="202.5" r="3.50" fill="url(#gy)"/><circle cx="154.8" cy="214.2" r="3.50" fill="url(#gy)"/><circle cx="157.8" cy="162.5" r="3.70" fill="url(#gt)"/><circle cx="163.1" cy="164.0" r="3.70" fill="url(#gt)"/><circle cx="163.1" cy="169.3" r="3.70" fill="url(#gt)"/><circle cx="167.7" cy="172.4" r="3.70" fill="url(#gt)"/><circle cx="172.3" cy="169.3" r="3.70" fill="url(#gt)"/><circle cx="166.2" cy="175.4" r="3.70" fill="url(#gt)"/><circle cx="163.9" cy="202.8" r="3.70" fill="url(#gt)"/><circle cx="179.1" cy="170.9" r="3.70" fill="url(#go)"/><circle cx="180.6" cy="178.5" r="3.70" fill="url(#go)"/><circle cx="170.8" cy="185.3" r="3.70" fill="url(#go)"/><circle cx="175.3" cy="189.1" r="3.70" fill="url(#go)"/><circle cx="172.3" cy="180.0" r="3.70" fill="url(#go)"/><circle cx="176.0" cy="184.0" r="3.70" fill="url(#go)"/><circle cx="178.0" cy="188.0" r="3.70" fill="url(#go)"/><circle cx="177.6" cy="175.4" r="3.70" fill="url(#gb)"/><circle cx="160.9" cy="189.1" r="3.70" fill="url(#gg)"/><circle cx="157.8" cy="188.4" r="3.70" fill="url(#gg)"/><circle cx="167.7" cy="201.3" r="3.70" fill="url(#gg)"/><circle cx="180.6" cy="193.7" r="3.70" fill="url(#gg)"/><circle cx="173.0" cy="177.7" r="3.70" fill="url(#gd)"/><circle cx="253.4" cy="149.3" r="3.50" fill="url(#gy)"/><circle cx="271.2" cy="180.0" r="3.50" fill="url(#gy)"/><circle cx="253.7" cy="194.4" r="3.50" fill="url(#gy)"/><circle cx="251.4" cy="197.5" r="3.50" fill="url(#gy)"/><circle cx="263.1" cy="211.9" r="3.50" fill="url(#gy)"/><circle cx="301.6" cy="168.6" r="3.50" fill="url(#gy)"/><circle cx="289.4" cy="185.3" r="3.50" fill="url(#gy)"/><circle cx="277.3" cy="145.0" r="3.50" fill="url(#gy)"/><circle cx="295.5" cy="208.9" r="3.70" fill="url(#gt)"/><circle cx="289.4" cy="176.2" r="3.70" fill="url(#gb)"/><circle cx="297.8" cy="148.0" r="3.70" fill="url(#gg)"/><circle cx="300.9" cy="148.0" r="3.70" fill="url(#gg)"/><circle cx="289.4" cy="155.6" r="3.70" fill="url(#gg)"/><circle cx="297.0" cy="156.4" r="3.70" fill="url(#gg)"/><circle cx="300.9" cy="157.2" r="3.70" fill="url(#gg)"/><circle cx="284.1" cy="176.2" r="3.70" fill="url(#gg)"/><circle cx="298.6" cy="175.4" r="3.70" fill="url(#gg)"/><circle cx="300.9" cy="177.7" r="3.70" fill="url(#gg)"/><circle cx="297.8" cy="180.8" r="3.70" fill="url(#gg)"/><circle cx="304.7" cy="186.1" r="3.70" fill="url(#gd)"/><circle cx="398.1" cy="146.5" r="3.50" fill="url(#gy)"/><circle cx="428.6" cy="151.1" r="3.50" fill="url(#gy)"/><circle cx="409.5" cy="178.2" r="3.50" fill="url(#gy)"/><circle cx="427.5" cy="174.2" r="3.50" fill="url(#gy)"/><circle cx="429.3" cy="198.2" r="3.50" fill="url(#gy)"/><circle cx="392.0" cy="191.4" r="3.50" fill="url(#gy)"/><circle cx="394.6" cy="196.4" r="3.50" fill="url(#gy)"/><circle cx="395.9" cy="208.1" r="3.50" fill="url(#gy)"/><circle cx="397.4" cy="211.9" r="3.50" fill="url(#gy)"/><circle cx="378.0" cy="192.2" r="3.50" fill="url(#gy)"/><circle cx="387.5" cy="189.1" r="3.50" fill="url(#gy)"/><circle cx="389.8" cy="183.8" r="3.50" fill="url(#gy)"/><circle cx="377.6" cy="200.5" r="3.50" fill="url(#gy)"/><circle cx="382.2" cy="201.3" r="3.50" fill="url(#gy)"/><circle cx="386.0" cy="199.8" r="3.50" fill="url(#gy)"/><circle cx="376.1" cy="206.6" r="3.50" fill="url(#gy)"/><circle cx="383.7" cy="205.9" r="3.50" fill="url(#gy)"/><circle cx="384.4" cy="148.0" r="3.50" fill="url(#gy)"/><circle cx="388.2" cy="151.8" r="3.50" fill="url(#gy)"/><circle cx="367.7" cy="203.6" r="3.70" fill="url(#gt)"/><circle cx="369.2" cy="208.1" r="3.70" fill="url(#gt)"/><circle cx="362.4" cy="192.2" r="3.70" fill="url(#gt)"/><circle cx="383.7" cy="162.5" r="3.70" fill="url(#go)"/><circle cx="388.2" cy="163.3" r="3.70" fill="url(#go)"/><circle cx="392.0" cy="164.8" r="3.70" fill="url(#go)"/><circle cx="387.5" cy="157.9" r="3.70" fill="url(#go)"/><circle cx="389.0" cy="153.4" r="3.70" fill="url(#go)"/><circle cx="373.0" cy="175.4" r="3.70" fill="url(#go)"/><circle cx="369.2" cy="158.7" r="3.70" fill="url(#gg)"/><circle cx="376.1" cy="157.2" r="3.70" fill="url(#gg)"/><circle cx="380.6" cy="154.1" r="3.70" fill="url(#gg)"/><circle cx="376.8" cy="161.7" r="3.70" fill="url(#gg)"/><circle cx="382.2" cy="158.7" r="3.70" fill="url(#gg)"/><circle cx="371.5" cy="173.1" r="3.70" fill="url(#gg)"/><circle cx="385.2" cy="181.5" r="3.70" fill="url(#gg)"/><circle cx="361.6" cy="189.9" r="3.70" fill="url(#gg)"/></g>
</g>
<rect x="32.6" y="3.3" width="404.0" height="213.0" fill="none" stroke="#2f3e9e" stroke-width="1.3"/>
<text x="57.50" y="119.20" font-size="17.40" text-anchor="middle" font-family="Liberation Sans, sans-serif" font-weight="bold" fill="#2b47a3" textLength="46.6" lengthAdjust="spacingAndGlyphs">Outer</text>
<text x="57.00" y="143.40" font-size="17.40" text-anchor="middle" font-family="Liberation Sans, sans-serif" font-weight="bold" fill="#2b47a3">(z&gt;0)</text>
<text x="234.00" y="119.20" font-size="17.40" text-anchor="middle" font-family="Liberation Sans, sans-serif" font-weight="bold" fill="#2b47a3">Inner</text>
<text x="233.70" y="143.40" font-size="17.40" text-anchor="middle" font-family="Liberation Sans, sans-serif" font-weight="bold" fill="#2b47a3">(z&lt;0)</text>
<text x="411.00" y="119.20" font-size="17.40" text-anchor="middle" font-family="Liberation Sans, sans-serif" font-weight="bold" fill="#2b47a3" textLength="46.2" lengthAdjust="spacingAndGlyphs">Outer</text>
<text x="411.50" y="143.40" font-size="17.40" text-anchor="middle" font-family="Liberation Sans, sans-serif" font-weight="bold" fill="#2b47a3">(z&gt;0)</text>
<text x="8.00" y="27.30" font-size="22.60" text-anchor="start" font-family="Liberation Sans, sans-serif" fill="#000">a)</text>
</g>
<g id="panelb" font-family="Liberation Sans, sans-serif" fill="#000">
<clipPath id="cb"><rect x="487.2" y="9.2" width="229.1" height="200.8"/></clipPath>
<g clip-path="url(#cb)" fill="none" stroke-width="1.25" stroke-linejoin="round">
<path d="M487.20,109.60 C487.53,109.60 488.53,109.60 489.20,109.60 C489.87,109.60 490.53,109.60 491.20,109.60 C491.87,109.59 492.53,109.59 493.20,109.59 C493.87,109.59 494.53,109.59 495.20,109.59 C495.87,109.59 496.53,109.58 497.20,109.58 C497.87,109.58 498.53,109.57 499.20,109.56 C499.87,109.56 500.53,109.55 501.20,109.54 C501.87,109.53 502.53,109.52 503.20,109.50 C503.87,109.48 504.53,109.46 505.20,109.43 C505.87,109.40 506.53,109.37 507.20,109.32 C507.87,109.27 508.53,109.22 509.20,109.14 C509.87,109.06 510.53,108.97 511.20,108.84 C511.87,108.70 512.53,108.56 513.20,108.35 C513.87,108.14 514.53,107.90 515.20,107.58 C515.87,107.25 516.53,106.89 517.20,106.40 C517.87,105.91 518.53,105.35 519.20,104.63 C519.87,103.92 520.53,103.11 521.20,102.09 C521.87,101.08 522.53,99.93 523.20,98.55 C523.87,97.17 524.53,95.62 525.20,93.81 C525.87,92.00 526.53,89.98 527.20,87.71 C527.87,85.44 528.53,82.92 529.20,80.20 C529.87,77.48 530.53,74.49 531.20,71.37 C531.87,68.26 532.53,64.89 533.20,61.51 C533.87,58.13 534.53,54.55 535.20,51.10 C535.87,47.66 536.53,44.10 537.20,40.82 C537.87,37.54 538.53,34.28 539.20,31.45 C539.87,28.61 540.53,25.94 541.20,23.80 C541.87,21.66 542.53,19.84 543.20,18.60 C543.87,17.36 544.80,16.75 545.20,16.36 C545.60,15.98 545.07,15.94 545.60,16.30 C546.13,16.66 547.50,17.30 548.40,18.50 C549.30,19.70 550.15,21.17 551.00,23.50 C551.85,25.83 552.70,29.00 553.50,32.50 C554.30,36.00 555.10,40.33 555.80,44.50 C556.50,48.67 557.07,53.00 557.70,57.50 C558.33,62.00 558.97,66.58 559.60,71.50 C560.23,76.42 560.93,82.58 561.50,87.00 C562.07,91.42 562.50,94.33 563.00,98.00 C563.50,101.67 563.92,105.33 564.50,109.00 C565.08,112.67 565.85,116.67 566.50,120.00 C567.15,123.33 567.75,126.50 568.40,129.00 C569.05,131.50 569.73,133.33 570.40,135.00 C571.07,136.67 571.42,137.35 572.40,139.00 C573.38,140.65 575.20,143.40 576.30,144.90 C577.40,146.40 578.02,146.85 579.00,148.00 C579.98,149.15 581.28,150.55 582.20,151.80 C583.12,153.05 583.70,154.03 584.50,155.50 C585.30,156.97 586.17,158.80 587.00,160.60 C587.83,162.40 588.67,164.33 589.50,166.30 C590.33,168.27 591.17,170.37 592.00,172.40 C592.83,174.43 593.68,176.55 594.50,178.50 C595.32,180.45 596.15,182.60 596.90,184.10 C597.65,185.60 598.40,186.68 599.00,187.50 C599.60,188.32 600.02,188.65 600.50,189.00 C600.98,189.35 601.47,189.60 601.85,189.60 C602.23,189.60 602.39,189.35 602.80,189.00 C603.21,188.65 603.70,188.32 604.30,187.50 C604.90,186.68 605.65,185.60 606.40,184.10 C607.15,182.60 607.98,180.45 608.80,178.50 C609.62,176.55 610.47,174.43 611.30,172.40 C612.13,170.37 612.97,168.27 613.80,166.30 C614.63,164.33 615.47,162.40 616.30,160.60 C617.13,158.80 618.00,156.97 618.80,155.50 C619.60,154.03 620.18,153.05 621.10,151.80 C622.02,150.55 623.32,149.15 624.30,148.00 C625.28,146.85 625.75,146.40 627.00,144.90 C628.25,143.40 630.67,140.65 631.80,139.00 C632.93,137.35 633.13,136.67 633.80,135.00 C634.47,133.33 635.15,131.50 635.80,129.00 C636.45,126.50 637.05,123.33 637.70,120.00 C638.35,116.67 639.12,112.67 639.70,109.00 C640.28,105.33 640.70,101.67 641.20,98.00 C641.70,94.33 642.13,91.42 642.70,87.00 C643.27,82.58 643.97,76.42 644.60,71.50 C645.23,66.58 645.87,62.00 646.50,57.50 C647.13,53.00 647.70,48.67 648.40,44.50 C649.10,40.33 649.90,36.00 650.70,32.50 C651.50,29.00 652.35,25.83 653.20,23.50 C654.05,21.17 654.90,19.70 655.80,18.50 C656.70,17.30 658.07,16.66 658.60,16.30 C659.13,15.94 658.60,15.98 659.00,16.36 C659.40,16.75 660.33,17.36 661.00,18.60 C661.67,19.84 662.33,21.66 663.00,23.80 C663.67,25.94 664.33,28.61 665.00,31.45 C665.67,34.28 666.33,37.54 667.00,40.82 C667.67,44.10 668.33,47.66 669.00,51.10 C669.67,54.55 670.33,58.13 671.00,61.51 C671.67,64.89 672.33,68.26 673.00,71.37 C673.67,74.49 674.33,77.48 675.00,80.20 C675.67,82.92 676.33,85.44 677.00,87.71 C677.67,89.98 678.33,92.00 679.00,93.81 C679.67,95.62 680.33,97.17 681.00,98.55 C681.67,99.93 682.33,101.08 683.00,102.09 C683.67,103.11 684.33,103.92 685.00,104.63 C685.67,105.35 686.33,105.91 687.00,106.40 C687.67,106.89 688.33,107.25 689.00,107.58 C689.67,107.90 690.33,108.14 691.00,108.35 C691.67,108.56 692.33,108.70 693.00,108.84 C693.67,108.97 694.33,109.06 695.00,109.14 C695.67,109.22 696.33,109.27 697.00,109.32 C697.67,109.37 698.33,109.40 699.00,109.43 C699.67,109.46 700.33,109.48 701.00,109.50 C701.67,109.52 702.33,109.53 703.00,109.54 C703.67,109.55 704.33,109.56 705.00,109.56 C705.67,109.57 706.33,109.58 707.00,109.58 C707.67,109.58 708.33,109.59 709.00,109.59 C709.67,109.59 710.33,109.59 711.00,109.59 C711.67,109.59 712.33,109.59 713.00,109.60 C713.67,109.60 714.33,109.60 715.00,109.60 C715.67,109.60 716.67,109.60 717.00,109.60" stroke="#000" stroke-width="1.0"/>
<path d="M486.85,109.60 C487.18,109.60 488.18,109.60 488.85,109.60 C489.52,109.60 490.18,109.60 490.85,109.60 C491.52,109.59 492.18,109.59 492.85,109.59 C493.52,109.59 494.18,109.59 494.85,109.59 C495.52,109.59 496.18,109.58 496.85,109.58 C497.52,109.58 498.18,109.57 498.85,109.56 C499.52,109.56 500.18,109.55 500.85,109.54 C501.52,109.53 502.18,109.52 502.85,109.50 C503.52,109.48 504.18,109.46 504.85,109.43 C505.52,109.40 506.18,109.37 506.85,109.32 C507.52,109.27 508.18,109.22 508.85,109.14 C509.52,109.05 510.18,108.96 510.85,108.83 C511.52,108.70 512.18,108.55 512.85,108.34 C513.52,108.13 514.18,107.89 514.85,107.57 C515.52,107.24 516.18,106.87 516.85,106.38 C517.52,105.88 518.18,105.32 518.85,104.60 C519.52,103.88 520.18,103.06 520.85,102.04 C521.52,101.02 522.18,99.87 522.85,98.48 C523.52,97.09 524.18,95.53 524.85,93.71 C525.52,91.89 526.18,89.85 526.85,87.57 C527.52,85.29 528.18,82.75 528.85,80.01 C529.52,77.27 530.18,74.26 530.85,71.13 C531.52,67.99 532.18,64.60 532.85,61.20 C533.52,57.80 534.18,54.20 534.85,50.73 C535.52,47.26 536.18,43.67 536.85,40.38 C537.52,37.08 538.18,33.80 538.85,30.94 C539.52,28.09 540.18,25.40 540.85,23.25 C541.52,21.09 542.18,19.26 542.85,18.01 C543.52,16.77 544.45,16.15 544.85,15.77 C545.25,15.38 544.72,15.34 545.25,15.70 C545.78,16.06 547.15,16.66 548.05,17.90 C548.95,19.14 549.80,20.71 550.65,23.14 C551.50,25.57 552.35,28.94 553.15,32.50 C553.95,36.06 554.75,40.33 555.45,44.50 C556.15,48.67 556.72,53.00 557.35,57.50 C557.98,62.00 558.62,66.58 559.25,71.50 C559.88,76.42 560.58,82.58 561.15,87.00 C561.72,91.42 562.15,94.33 562.65,98.00 C563.15,101.67 563.57,105.33 564.15,109.00 C564.73,112.67 565.50,116.67 566.15,120.00 C566.80,123.33 567.40,126.50 568.05,129.00 C568.70,131.50 569.38,133.33 570.05,135.00 C570.72,136.67 571.01,137.35 572.05,139.00 C573.09,140.65 575.14,143.40 576.30,144.90 C577.46,146.40 578.02,146.85 579.00,148.00 C579.98,149.15 581.28,150.55 582.20,151.80 C583.12,153.05 583.70,154.03 584.50,155.50 C585.30,156.97 586.17,158.80 587.00,160.60 C587.83,162.40 588.67,164.33 589.50,166.30 C590.33,168.27 591.17,170.37 592.00,172.40 C592.83,174.43 593.68,176.55 594.50,178.50 C595.32,180.45 596.15,182.60 596.90,184.10 C597.65,185.60 598.40,186.68 599.00,187.50 C599.60,188.32 600.02,188.65 600.50,189.00 C600.98,189.35 601.47,189.60 601.85,189.60 C602.23,189.60 602.39,189.35 602.80,189.00 C603.21,188.65 603.70,188.32 604.30,187.50 C604.90,186.68 605.65,185.60 606.40,184.10 C607.15,182.60 607.98,180.45 608.80,178.50 C609.62,176.55 610.47,174.43 611.30,172.40 C612.13,170.37 612.97,168.27 613.80,166.30 C614.63,164.33 615.47,162.40 616.30,160.60 C617.13,158.80 618.00,156.97 618.80,155.50 C619.60,154.03 620.18,153.05 621.10,151.80 C622.02,150.55 623.32,149.15 624.30,148.00 C625.28,146.85 625.90,146.40 627.00,144.90 C628.10,143.40 629.92,140.65 630.90,139.00 C631.88,137.35 632.23,136.67 632.90,135.00 C633.57,133.33 634.25,131.50 634.90,129.00 C635.55,126.50 636.15,123.33 636.80,120.00 C637.45,116.67 638.22,112.67 638.80,109.00 C639.38,105.33 639.80,101.67 640.30,98.00 C640.80,94.33 641.23,91.42 641.80,87.00 C642.37,82.58 643.07,76.42 643.70,71.50 C644.33,66.58 644.97,62.00 645.60,57.50 C646.23,53.00 646.80,48.67 647.50,44.50 C648.20,40.33 649.00,36.06 649.80,32.50 C650.60,28.94 651.45,25.57 652.30,23.14 C653.15,20.71 654.00,19.14 654.90,17.90 C655.80,16.66 657.17,16.06 657.70,15.70 C658.23,15.34 657.70,15.38 658.10,15.77 C658.50,16.15 659.43,16.77 660.10,18.01 C660.77,19.26 661.43,21.09 662.10,23.25 C662.77,25.40 663.43,28.09 664.10,30.94 C664.77,33.80 665.43,37.08 666.10,40.38 C666.77,43.67 667.43,47.26 668.10,50.73 C668.77,54.20 669.43,57.80 670.10,61.20 C670.77,64.60 671.43,67.99 672.10,71.13 C672.77,74.26 673.43,77.27 674.10,80.01 C674.77,82.75 675.43,85.29 676.10,87.57 C676.77,89.85 677.43,91.89 678.10,93.71 C678.77,95.53 679.43,97.09 680.10,98.48 C680.77,99.87 681.43,101.02 682.10,102.04 C682.77,103.06 683.43,103.88 684.10,104.60 C684.77,105.32 685.43,105.88 686.10,106.38 C686.77,106.87 687.43,107.24 688.10,107.57 C688.77,107.89 689.43,108.13 690.10,108.34 C690.77,108.55 691.43,108.70 692.10,108.83 C692.77,108.96 693.43,109.05 694.10,109.14 C694.77,109.22 695.43,109.27 696.10,109.32 C696.77,109.37 697.43,109.40 698.10,109.43 C698.77,109.46 699.43,109.48 700.10,109.50 C700.77,109.52 701.43,109.53 702.10,109.54 C702.77,109.55 703.43,109.56 704.10,109.56 C704.77,109.57 705.43,109.58 706.10,109.58 C706.77,109.58 707.43,109.59 708.10,109.59 C708.77,109.59 709.43,109.59 710.10,109.59 C710.77,109.59 711.43,109.59 712.10,109.60 C712.77,109.60 713.43,109.60 714.10,109.60 C714.77,109.60 715.77,109.60 716.10,109.60" stroke="#ee2229" stroke-width="1.0"/>
<path d="M487.20,109.60 C487.53,109.60 488.53,109.60 489.20,109.60 C489.87,109.60 490.53,109.60 491.20,109.60 C491.87,109.59 492.53,109.59 493.20,109.59 C493.87,109.59 494.53,109.59 495.20,109.59 C495.87,109.59 496.53,109.58 497.20,109.58 C497.87,109.58 498.53,109.57 499.20,109.56 C499.87,109.56 500.53,109.55 501.20,109.54 C501.87,109.53 502.53,109.52 503.20,109.50 C503.87,109.48 504.53,109.47 505.20,109.44 C505.87,109.41 506.53,109.37 507.20,109.32 C507.87,109.28 508.53,109.22 509.20,109.14 C509.87,109.06 510.53,108.97 511.20,108.84 C511.87,108.71 512.53,108.56 513.20,108.36 C513.87,108.15 514.53,107.91 515.20,107.59 C515.87,107.27 516.53,106.90 517.20,106.42 C517.87,105.93 518.53,105.38 519.20,104.67 C519.87,103.95 520.53,103.15 521.20,102.14 C521.87,101.13 522.53,99.99 523.20,98.62 C523.87,97.25 524.53,95.71 525.20,93.91 C525.87,92.12 526.53,90.10 527.20,87.85 C527.87,85.60 528.53,83.09 529.20,80.39 C529.87,77.68 530.53,74.71 531.20,71.62 C531.87,68.52 532.53,65.18 533.20,61.82 C533.87,58.46 534.53,54.91 535.20,51.48 C535.87,48.05 536.53,44.52 537.20,41.26 C537.87,38.01 538.53,34.77 539.20,31.95 C539.87,29.13 540.53,26.48 541.20,24.35 C541.87,22.22 542.53,20.41 543.20,19.18 C543.87,17.95 544.80,17.34 545.20,16.96 C545.60,16.58 545.07,16.54 545.60,16.90 C546.13,17.26 547.50,17.94 548.40,19.10 C549.30,20.26 550.15,21.63 551.00,23.86 C551.85,26.09 552.70,29.06 553.50,32.50 C554.30,35.94 555.10,40.33 555.80,44.50 C556.50,48.67 557.07,53.00 557.70,57.50 C558.33,62.00 558.97,66.58 559.60,71.50 C560.23,76.42 560.93,82.58 561.50,87.00 C562.07,91.42 562.50,94.33 563.00,98.00 C563.50,101.67 563.92,105.33 564.50,109.00 C565.08,112.67 565.85,116.67 566.50,120.00 C567.15,123.33 567.75,126.50 568.40,129.00 C569.05,131.50 569.73,133.33 570.40,135.00 C571.07,136.67 571.42,137.35 572.40,139.00 C573.38,140.65 575.20,143.40 576.30,144.90 C577.40,146.40 578.02,146.85 579.00,148.00 C579.98,149.15 581.28,150.55 582.20,151.80 C583.12,153.05 583.70,154.03 584.50,155.50 C585.30,156.97 586.17,158.80 587.00,160.60 C587.83,162.40 588.67,164.33 589.50,166.30 C590.33,168.27 591.17,170.37 592.00,172.40 C592.83,174.43 593.68,176.55 594.50,178.50 C595.32,180.45 596.15,182.60 596.90,184.10 C597.65,185.60 598.40,186.68 599.00,187.50 C599.60,188.32 600.02,188.65 600.50,189.00 C600.98,189.35 601.47,189.60 601.85,189.60 C602.23,189.60 602.39,189.35 602.80,189.00 C603.21,188.65 603.70,188.32 604.30,187.50 C604.90,186.68 605.65,185.60 606.40,184.10 C607.15,182.60 607.98,180.45 608.80,178.50 C609.62,176.55 610.47,174.43 611.30,172.40 C612.13,170.37 612.97,168.27 613.80,166.30 C614.63,164.33 615.47,162.40 616.30,160.60 C617.13,158.80 618.00,156.97 618.80,155.50 C619.60,154.03 620.18,153.05 621.10,151.80 C622.02,150.55 623.32,149.15 624.30,148.00 C625.28,146.85 625.90,146.40 627.00,144.90 C628.10,143.40 629.92,140.65 630.90,139.00 C631.88,137.35 632.23,136.67 632.90,135.00 C633.57,133.33 634.25,131.50 634.90,129.00 C635.55,126.50 636.15,123.33 636.80,120.00 C637.45,116.67 638.22,112.67 638.80,109.00 C639.38,105.33 639.80,101.67 640.30,98.00 C640.80,94.33 641.23,91.42 641.80,87.00 C642.37,82.58 643.07,76.42 643.70,71.50 C644.33,66.58 644.97,62.00 645.60,57.50 C646.23,53.00 646.80,48.67 647.50,44.50 C648.20,40.33 649.00,35.94 649.80,32.50 C650.60,29.06 651.45,26.09 652.30,23.86 C653.15,21.63 654.00,20.26 654.90,19.10 C655.80,17.94 657.17,17.26 657.70,16.90 C658.23,16.54 657.70,16.58 658.10,16.96 C658.50,17.34 659.43,17.95 660.10,19.18 C660.77,20.41 661.43,22.22 662.10,24.35 C662.77,26.48 663.43,29.13 664.10,31.95 C664.77,34.77 665.43,38.01 666.10,41.26 C666.77,44.52 667.43,48.05 668.10,51.48 C668.77,54.91 669.43,58.46 670.10,61.82 C670.77,65.18 671.43,68.52 672.10,71.62 C672.77,74.71 673.43,77.68 674.10,80.39 C674.77,83.09 675.43,85.60 676.10,87.85 C676.77,90.10 677.43,92.12 678.10,93.91 C678.77,95.71 679.43,97.25 680.10,98.62 C680.77,99.99 681.43,101.13 682.10,102.14 C682.77,103.15 683.43,103.95 684.10,104.67 C684.77,105.38 685.43,105.93 686.10,106.42 C686.77,106.90 687.43,107.27 688.10,107.59 C688.77,107.91 689.43,108.15 690.10,108.36 C690.77,108.56 691.43,108.71 692.10,108.84 C692.77,108.97 693.43,109.06 694.10,109.14 C694.77,109.22 695.43,109.28 696.10,109.32 C696.77,109.37 697.43,109.41 698.10,109.44 C698.77,109.47 699.43,109.48 700.10,109.50 C700.77,109.52 701.43,109.53 702.10,109.54 C702.77,109.55 703.43,109.56 704.10,109.56 C704.77,109.57 705.43,109.58 706.10,109.58 C706.77,109.58 707.43,109.59 708.10,109.59 C708.77,109.59 709.43,109.59 710.10,109.59 C710.77,109.59 711.43,109.59 712.10,109.60 C712.77,109.60 713.43,109.60 714.10,109.60 C714.77,109.60 715.77,109.60 716.10,109.60" stroke="#3345a7" stroke-width="1.5"/>
<path d="M487.50,109.60 C487.83,109.60 488.83,109.60 489.50,109.60 C490.17,109.60 490.83,109.60 491.50,109.60 C492.17,109.60 492.83,109.60 493.50,109.60 C494.17,109.60 494.83,109.60 495.50,109.60 C496.17,109.60 496.83,109.60 497.50,109.60 C498.17,109.60 498.83,109.60 499.50,109.60 C500.17,109.60 500.83,109.60 501.50,109.59 C502.17,109.59 502.83,109.59 503.50,109.59 C504.17,109.59 504.83,109.58 505.50,109.58 C506.17,109.57 506.83,109.57 507.50,109.56 C508.17,109.55 508.83,109.54 509.50,109.52 C510.17,109.51 510.83,109.49 511.50,109.46 C512.17,109.43 512.83,109.40 513.50,109.34 C514.17,109.28 514.83,109.22 515.50,109.12 C516.17,109.02 516.83,108.91 517.50,108.73 C518.17,108.55 518.83,108.35 519.50,108.04 C520.17,107.73 520.83,107.39 521.50,106.88 C522.17,106.37 522.83,105.79 523.50,104.98 C524.17,104.18 524.83,103.26 525.50,102.04 C526.17,100.83 526.83,99.43 527.50,97.69 C528.17,95.95 528.83,93.96 529.50,91.60 C530.17,89.25 530.83,86.57 531.50,83.58 C532.17,80.58 532.83,77.21 533.50,73.64 C534.17,70.08 534.83,66.13 535.50,62.19 C536.17,58.24 536.83,53.99 537.50,49.99 C538.17,45.98 538.83,41.82 539.50,38.17 C540.17,34.52 540.83,30.94 541.50,28.08 C542.17,25.21 542.83,22.68 543.50,20.99 C544.17,19.29 545.10,18.42 545.50,17.89 C545.90,17.36 545.37,17.45 545.90,17.80 C546.43,18.15 547.80,18.90 548.70,20.00 C549.60,21.10 550.45,22.32 551.30,24.40 C552.15,26.48 553.00,29.15 553.80,32.50 C554.60,35.85 555.40,40.33 556.10,44.50 C556.80,48.67 557.37,53.00 558.00,57.50 C558.63,62.00 559.27,66.58 559.90,71.50 C560.53,76.42 561.23,82.58 561.80,87.00 C562.37,91.42 562.80,94.33 563.30,98.00 C563.80,101.67 564.22,105.33 564.80,109.00 C565.38,112.67 566.15,116.67 566.80,120.00 C567.45,123.33 568.05,126.50 568.70,129.00 C569.35,131.50 570.03,133.33 570.70,135.00 C571.37,136.67 571.77,137.35 572.70,139.00 C573.63,140.65 575.25,143.40 576.30,144.90 C577.35,146.40 578.02,146.85 579.00,148.00 C579.98,149.15 581.28,150.55 582.20,151.80 C583.12,153.05 583.70,154.03 584.50,155.50 C585.30,156.97 586.17,158.80 587.00,160.60 C587.83,162.40 588.67,164.33 589.50,166.30 C590.33,168.27 591.17,170.37 592.00,172.40 C592.83,174.43 593.68,176.55 594.50,178.50 C595.32,180.45 596.15,182.60 596.90,184.10 C597.65,185.60 598.40,186.68 599.00,187.50 C599.60,188.32 600.02,188.65 600.50,189.00 C600.98,189.35 601.47,189.60 601.85,189.60 C602.23,189.60 602.39,189.35 602.80,189.00 C603.21,188.65 603.70,188.32 604.30,187.50 C604.90,186.68 605.65,185.60 606.40,184.10 C607.15,182.60 607.98,180.45 608.80,178.50 C609.62,176.55 610.47,174.43 611.30,172.40 C612.13,170.37 612.97,168.27 613.80,166.30 C614.63,164.33 615.47,162.40 616.30,160.60 C617.13,158.80 618.00,156.97 618.80,155.50 C619.60,154.03 620.18,153.05 621.10,151.80 C622.02,150.55 623.32,149.15 624.30,148.00 C625.28,146.85 625.90,146.40 627.00,144.90 C628.10,143.40 629.92,140.65 630.90,139.00 C631.88,137.35 632.23,136.67 632.90,135.00 C633.57,133.33 634.25,131.50 634.90,129.00 C635.55,126.50 636.15,123.33 636.80,120.00 C637.45,116.67 638.22,112.67 638.80,109.00 C639.38,105.33 639.80,101.67 640.30,98.00 C640.80,94.33 641.23,91.42 641.80,87.00 C642.37,82.58 643.07,76.42 643.70,71.50 C644.33,66.58 644.97,62.00 645.60,57.50 C646.23,53.00 646.80,48.67 647.50,44.50 C648.20,40.33 649.00,35.85 649.80,32.50 C650.60,29.15 651.45,26.48 652.30,24.40 C653.15,22.32 654.00,21.10 654.90,20.00 C655.80,18.90 657.17,18.15 657.70,17.80 C658.23,17.45 657.70,17.36 658.10,17.89 C658.50,18.42 659.43,19.29 660.10,20.99 C660.77,22.68 661.43,25.21 662.10,28.08 C662.77,30.94 663.43,34.52 664.10,38.17 C664.77,41.82 665.43,45.98 666.10,49.99 C666.77,53.99 667.43,58.24 668.10,62.19 C668.77,66.13 669.43,70.08 670.10,73.64 C670.77,77.21 671.43,80.58 672.10,83.58 C672.77,86.57 673.43,89.25 674.10,91.60 C674.77,93.96 675.43,95.95 676.10,97.69 C676.77,99.43 677.43,100.83 678.10,102.04 C678.77,103.26 679.43,104.18 680.10,104.98 C680.77,105.79 681.43,106.37 682.10,106.88 C682.77,107.39 683.43,107.73 684.10,108.04 C684.77,108.35 685.43,108.55 686.10,108.73 C686.77,108.91 687.43,109.02 688.10,109.12 C688.77,109.22 689.43,109.28 690.10,109.34 C690.77,109.40 691.43,109.43 692.10,109.46 C692.77,109.49 693.43,109.51 694.10,109.52 C694.77,109.54 695.43,109.55 696.10,109.56 C696.77,109.57 697.43,109.57 698.10,109.58 C698.77,109.58 699.43,109.59 700.10,109.59 C700.77,109.59 701.43,109.59 702.10,109.59 C702.77,109.60 703.43,109.60 704.10,109.60 C704.77,109.60 705.43,109.60 706.10,109.60 C706.77,109.60 707.43,109.60 708.10,109.60 C708.77,109.60 709.43,109.60 710.10,109.60 C710.77,109.60 711.43,109.60 712.10,109.60 C712.77,109.60 713.43,109.60 714.10,109.60 C714.77,109.60 715.77,109.60 716.10,109.60" stroke="#000" stroke-dasharray="4.2 2.8"/>
<path d="M487.20,109.60 C487.53,109.60 488.53,109.60 489.20,109.60 C489.87,109.60 490.53,109.60 491.20,109.60 C491.87,109.60 492.53,109.60 493.20,109.60 C493.87,109.60 494.53,109.60 495.20,109.60 C495.87,109.60 496.53,109.60 497.20,109.60 C497.87,109.60 498.53,109.60 499.20,109.60 C499.87,109.59 500.53,109.59 501.20,109.59 C501.87,109.59 502.53,109.59 503.20,109.58 C503.87,109.58 504.53,109.58 505.20,109.57 C505.87,109.56 506.53,109.56 507.20,109.55 C507.87,109.53 508.53,109.52 509.20,109.50 C509.87,109.48 510.53,109.46 511.20,109.42 C511.87,109.38 512.53,109.34 513.20,109.27 C513.87,109.20 514.53,109.13 515.20,109.01 C515.87,108.88 516.53,108.75 517.20,108.54 C517.87,108.33 518.53,108.09 519.20,107.74 C519.87,107.39 520.53,106.99 521.20,106.42 C521.87,105.85 522.53,105.20 523.20,104.32 C523.87,103.43 524.53,102.43 525.20,101.12 C525.87,99.82 526.53,98.33 527.20,96.50 C527.87,94.68 528.53,92.59 529.20,90.16 C529.87,87.74 530.53,84.99 531.20,81.95 C531.87,78.91 532.53,75.51 533.20,71.95 C533.87,68.39 534.53,64.46 535.20,60.57 C535.87,56.68 536.53,52.51 537.20,48.60 C537.87,44.69 538.53,40.65 539.20,37.11 C539.87,33.57 540.53,30.12 541.20,27.36 C541.87,24.60 542.53,22.18 543.20,20.55 C543.87,18.92 544.80,18.10 545.20,17.59 C545.60,17.08 545.07,17.15 545.60,17.50 C546.13,17.85 547.50,18.58 548.40,19.70 C549.30,20.82 550.15,22.09 551.00,24.22 C551.85,26.35 552.70,29.12 553.50,32.50 C554.30,35.88 555.10,40.33 555.80,44.50 C556.50,48.67 557.07,53.00 557.70,57.50 C558.33,62.00 558.97,66.58 559.60,71.50 C560.23,76.42 560.93,82.58 561.50,87.00 C562.07,91.42 562.50,94.33 563.00,98.00 C563.50,101.67 563.92,105.33 564.50,109.00 C565.08,112.67 565.85,116.67 566.50,120.00 C567.15,123.33 567.75,126.50 568.40,129.00 C569.05,131.50 569.73,133.33 570.40,135.00 C571.07,136.67 571.42,137.35 572.40,139.00 C573.38,140.65 575.20,143.40 576.30,144.90 C577.40,146.40 578.02,146.85 579.00,148.00 C579.98,149.15 581.28,150.55 582.20,151.80 C583.12,153.05 583.70,154.03 584.50,155.50 C585.30,156.97 586.17,158.80 587.00,160.60 C587.83,162.40 588.67,164.33 589.50,166.30 C590.33,168.27 591.17,170.37 592.00,172.40 C592.83,174.43 593.68,176.55 594.50,178.50 C595.32,180.45 596.15,182.60 596.90,184.10 C597.65,185.60 598.40,186.68 599.00,187.50 C599.60,188.32 600.02,188.65 600.50,189.00 C600.98,189.35 601.47,189.60 601.85,189.60 C602.23,189.60 602.39,189.35 602.80,189.00 C603.21,188.65 603.70,188.32 604.30,187.50 C604.90,186.68 605.65,185.60 606.40,184.10 C607.15,182.60 607.98,180.45 608.80,178.50 C609.62,176.55 610.47,174.43 611.30,172.40 C612.13,170.37 612.97,168.27 613.80,166.30 C614.63,164.33 615.47,162.40 616.30,160.60 C617.13,158.80 618.00,156.97 618.80,155.50 C619.60,154.03 620.18,153.05 621.10,151.80 C622.02,150.55 623.32,149.15 624.30,148.00 C625.28,146.85 625.85,146.40 627.00,144.90 C628.15,143.40 630.17,140.65 631.20,139.00 C632.23,137.35 632.53,136.67 633.20,135.00 C633.87,133.33 634.55,131.50 635.20,129.00 C635.85,126.50 636.45,123.33 637.10,120.00 C637.75,116.67 638.52,112.67 639.10,109.00 C639.68,105.33 640.10,101.67 640.60,98.00 C641.10,94.33 641.53,91.42 642.10,87.00 C642.67,82.58 643.37,76.42 644.00,71.50 C644.63,66.58 645.27,62.00 645.90,57.50 C646.53,53.00 647.10,48.67 647.80,44.50 C648.50,40.33 649.30,35.88 650.10,32.50 C650.90,29.12 651.75,26.35 652.60,24.22 C653.45,22.09 654.30,20.82 655.20,19.70 C656.10,18.58 657.47,17.85 658.00,17.50 C658.53,17.15 658.00,17.08 658.40,17.59 C658.80,18.10 659.73,18.92 660.40,20.55 C661.07,22.18 661.73,24.60 662.40,27.36 C663.07,30.12 663.73,33.57 664.40,37.11 C665.07,40.65 665.73,44.69 666.40,48.60 C667.07,52.51 667.73,56.68 668.40,60.57 C669.07,64.46 669.73,68.39 670.40,71.95 C671.07,75.51 671.73,78.91 672.40,81.95 C673.07,84.99 673.73,87.74 674.40,90.16 C675.07,92.59 675.73,94.68 676.40,96.50 C677.07,98.33 677.73,99.82 678.40,101.12 C679.07,102.43 679.73,103.43 680.40,104.32 C681.07,105.20 681.73,105.85 682.40,106.42 C683.07,106.99 683.73,107.39 684.40,107.74 C685.07,108.09 685.73,108.33 686.40,108.54 C687.07,108.75 687.73,108.88 688.40,109.01 C689.07,109.13 689.73,109.20 690.40,109.27 C691.07,109.34 691.73,109.38 692.40,109.42 C693.07,109.46 693.73,109.48 694.40,109.50 C695.07,109.52 695.73,109.53 696.40,109.55 C697.07,109.56 697.73,109.56 698.40,109.57 C699.07,109.58 699.73,109.58 700.40,109.58 C701.07,109.59 701.73,109.59 702.40,109.59 C703.07,109.59 703.73,109.59 704.40,109.60 C705.07,109.60 705.73,109.60 706.40,109.60 C707.07,109.60 707.73,109.60 708.40,109.60 C709.07,109.60 709.73,109.60 710.40,109.60 C711.07,109.60 711.73,109.60 712.40,109.60 C713.07,109.60 713.73,109.60 714.40,109.60 C715.07,109.60 716.07,109.60 716.40,109.60" stroke="#ee2229" stroke-dasharray="4.2 2.8"/>
<path d="M487.20,109.60 C487.53,109.60 488.53,109.60 489.20,109.60 C489.87,109.60 490.53,109.60 491.20,109.60 C491.87,109.60 492.53,109.60 493.20,109.60 C493.87,109.60 494.53,109.60 495.20,109.60 C495.87,109.60 496.53,109.60 497.20,109.60 C497.87,109.60 498.53,109.60 499.20,109.60 C499.87,109.60 500.53,109.60 501.20,109.60 C501.87,109.59 502.53,109.59 503.20,109.59 C503.87,109.59 504.53,109.59 505.20,109.58 C505.87,109.58 506.53,109.58 507.20,109.57 C507.87,109.56 508.53,109.55 509.20,109.54 C509.87,109.53 510.53,109.52 511.20,109.49 C511.87,109.47 512.53,109.44 513.20,109.40 C513.87,109.35 514.53,109.30 515.20,109.22 C515.87,109.13 516.53,109.04 517.20,108.89 C517.87,108.74 518.53,108.58 519.20,108.31 C519.87,108.04 520.53,107.75 521.20,107.30 C521.87,106.84 522.53,106.34 523.20,105.60 C523.87,104.87 524.53,104.04 525.20,102.91 C525.87,101.79 526.53,100.49 527.20,98.84 C527.87,97.20 528.53,95.30 529.20,93.03 C529.87,90.76 530.53,88.15 531.20,85.21 C531.87,82.27 532.53,78.93 533.20,75.37 C533.87,71.81 534.53,67.84 535.20,63.85 C535.87,59.86 536.53,55.53 537.20,51.43 C537.87,47.34 538.53,43.05 539.20,39.28 C539.87,35.51 540.53,31.79 541.20,28.82 C541.87,25.84 542.53,23.20 543.20,21.43 C543.87,19.66 544.80,18.75 545.20,18.19 C545.60,17.64 545.07,17.75 545.60,18.10 C546.13,18.45 547.50,19.22 548.40,20.30 C549.30,21.38 550.15,22.55 551.00,24.58 C551.85,26.61 552.70,29.18 553.50,32.50 C554.30,35.82 555.10,40.33 555.80,44.50 C556.50,48.67 557.07,53.00 557.70,57.50 C558.33,62.00 558.97,66.58 559.60,71.50 C560.23,76.42 560.93,82.58 561.50,87.00 C562.07,91.42 562.50,94.33 563.00,98.00 C563.50,101.67 563.92,105.33 564.50,109.00 C565.08,112.67 565.85,116.67 566.50,120.00 C567.15,123.33 567.75,126.50 568.40,129.00 C569.05,131.50 569.73,133.33 570.40,135.00 C571.07,136.67 571.42,137.35 572.40,139.00 C573.38,140.65 575.20,143.40 576.30,144.90 C577.40,146.40 578.02,146.85 579.00,148.00 C579.98,149.15 581.28,150.55 582.20,151.80 C583.12,153.05 583.70,154.03 584.50,155.50 C585.30,156.97 586.17,158.80 587.00,160.60 C587.83,162.40 588.67,164.33 589.50,166.30 C590.33,168.27 591.17,170.37 592.00,172.40 C592.83,174.43 593.68,176.55 594.50,178.50 C595.32,180.45 596.15,182.60 596.90,184.10 C597.65,185.60 598.40,186.68 599.00,187.50 C599.60,188.32 600.02,188.65 600.50,189.00 C600.98,189.35 601.47,189.60 601.85,189.60 C602.23,189.60 602.39,189.35 602.80,189.00 C603.21,188.65 603.70,188.32 604.30,187.50 C604.90,186.68 605.65,185.60 606.40,184.10 C607.15,182.60 607.98,180.45 608.80,178.50 C609.62,176.55 610.47,174.43 611.30,172.40 C612.13,170.37 612.97,168.27 613.80,166.30 C614.63,164.33 615.47,162.40 616.30,160.60 C617.13,158.80 618.00,156.97 618.80,155.50 C619.60,154.03 620.18,153.05 621.10,151.80 C622.02,150.55 623.32,149.15 624.30,148.00 C625.28,146.85 625.90,146.40 627.00,144.90 C628.10,143.40 629.92,140.65 630.90,139.00 C631.88,137.35 632.23,136.67 632.90,135.00 C633.57,133.33 634.25,131.50 634.90,129.00 C635.55,126.50 636.15,123.33 636.80,120.00 C637.45,116.67 638.22,112.67 638.80,109.00 C639.38,105.33 639.80,101.67 640.30,98.00 C640.80,94.33 641.23,91.42 641.80,87.00 C642.37,82.58 643.07,76.42 643.70,71.50 C644.33,66.58 644.97,62.00 645.60,57.50 C646.23,53.00 646.80,48.67 647.50,44.50 C648.20,40.33 649.00,35.82 649.80,32.50 C650.60,29.18 651.45,26.61 652.30,24.58 C653.15,22.55 654.00,21.38 654.90,20.30 C655.80,19.22 657.17,18.45 657.70,18.10 C658.23,17.75 657.70,17.64 658.10,18.19 C658.50,18.75 659.43,19.66 660.10,21.43 C660.77,23.20 661.43,25.84 662.10,28.82 C662.77,31.79 663.43,35.51 664.10,39.28 C664.77,43.05 665.43,47.34 666.10,51.43 C666.77,55.53 667.43,59.86 668.10,63.85 C668.77,67.84 669.43,71.81 670.10,75.37 C670.77,78.93 671.43,82.27 672.10,85.21 C672.77,88.15 673.43,90.76 674.10,93.03 C674.77,95.30 675.43,97.20 676.10,98.84 C676.77,100.49 677.43,101.79 678.10,102.91 C678.77,104.04 679.43,104.87 680.10,105.60 C680.77,106.34 681.43,106.84 682.10,107.30 C682.77,107.75 683.43,108.04 684.10,108.31 C684.77,108.58 685.43,108.74 686.10,108.89 C686.77,109.04 687.43,109.13 688.10,109.22 C688.77,109.30 689.43,109.35 690.10,109.40 C690.77,109.44 691.43,109.47 692.10,109.49 C692.77,109.52 693.43,109.53 694.10,109.54 C694.77,109.55 695.43,109.56 696.10,109.57 C696.77,109.58 697.43,109.58 698.10,109.58 C698.77,109.59 699.43,109.59 700.10,109.59 C700.77,109.59 701.43,109.59 702.10,109.60 C702.77,109.60 703.43,109.60 704.10,109.60 C704.77,109.60 705.43,109.60 706.10,109.60 C706.77,109.60 707.43,109.60 708.10,109.60 C708.77,109.60 709.43,109.60 710.10,109.60 C710.77,109.60 711.43,109.60 712.10,109.60 C712.77,109.60 713.43,109.60 714.10,109.60 C714.77,109.60 715.77,109.60 716.10,109.60" stroke="#3345a7" stroke-dasharray="4.2 2.8"/>
</g>
<rect x="487.20" y="9.20" width="229.10" height="200.80" fill="none" stroke="#000" stroke-width="1.1"/>
<g stroke="#000" stroke-width="1.0"><line x1="515.84" y1="210.00" x2="515.84" y2="207.40" /><line x1="515.84" y1="9.20" x2="515.84" y2="11.80" /><line x1="544.48" y1="210.00" x2="544.48" y2="205.40" /><line x1="544.48" y1="9.20" x2="544.48" y2="13.80" /><line x1="573.11" y1="210.00" x2="573.11" y2="207.40" /><line x1="573.11" y1="9.20" x2="573.11" y2="11.80" /><line x1="601.75" y1="210.00" x2="601.75" y2="205.40" /><line x1="601.75" y1="9.20" x2="601.75" y2="13.80" /><line x1="630.39" y1="210.00" x2="630.39" y2="207.40" /><line x1="630.39" y1="9.20" x2="630.39" y2="11.80" /><line x1="659.02" y1="210.00" x2="659.02" y2="205.40" /><line x1="659.02" y1="9.20" x2="659.02" y2="13.80" /><line x1="687.66" y1="210.00" x2="687.66" y2="207.40" /><line x1="687.66" y1="9.20" x2="687.66" y2="11.80" /><line x1="487.20" y1="184.90" x2="489.80" y2="184.90" /><line x1="716.30" y1="184.90" x2="713.70" y2="184.90" /><line x1="487.20" y1="159.80" x2="491.80" y2="159.80" /><line x1="716.30" y1="159.80" x2="711.70" y2="159.80" /><line x1="487.20" y1="134.70" x2="489.80" y2="134.70" /><line x1="716.30" y1="134.70" x2="713.70" y2="134.70" /><line x1="487.20" y1="109.60" x2="491.80" y2="109.60" /><line x1="716.30" y1="109.60" x2="711.70" y2="109.60" /><line x1="487.20" y1="84.50" x2="489.80" y2="84.50" /><line x1="716.30" y1="84.50" x2="713.70" y2="84.50" /><line x1="487.20" y1="59.40" x2="491.80" y2="59.40" /><line x1="716.30" y1="59.40" x2="711.70" y2="59.40" /><line x1="487.20" y1="34.30" x2="489.80" y2="34.30" /><line x1="716.30" y1="34.30" x2="713.70" y2="34.30" /></g>
<text x="485.60" y="224.00" font-size="11.00" text-anchor="middle" >-4</text>
<text x="542.88" y="224.00" font-size="11.00" text-anchor="middle" >-2</text>
<text x="601.75" y="224.00" font-size="11.00" text-anchor="middle" >0</text>
<text x="659.02" y="224.00" font-size="11.00" text-anchor="middle" >2</text>
<text x="716.30" y="224.00" font-size="11.00" text-anchor="middle" >4</text>
<text x="482.60" y="214.00" font-size="11.00" text-anchor="end" >600</text>
<text x="482.60" y="163.80" font-size="11.00" text-anchor="end" >800</text>
<text x="482.60" y="113.60" font-size="11.00" text-anchor="end" >1000</text>
<text x="482.60" y="63.40" font-size="11.00" text-anchor="end" >1200</text>
<text x="482.60" y="13.20" font-size="11.00" text-anchor="end" >1400</text>
<text x="601.50" y="234.70" font-size="13.50" text-anchor="middle" >z (nm)</text>
<g transform="translate(453.9,106.4) rotate(-90)"><text x="0" y="0" font-size="13.7" text-anchor="middle">Mass density (kg/m<tspan font-size="8.5" dy="-5">3</tspan><tspan dy="5">)</tspan></text></g>
<text x="440.50" y="25.50" font-size="23.50" text-anchor="start" >b)</text>
<line x1="511.80" y1="149.40" x2="540.20" y2="149.40" stroke="#000" stroke-width="1.4"/>
<text x="543.60" y="153.70" font-size="12.20" font-style="italic">Q</text><text x="553.39" y="148.00" font-size="7.80" font-style="italic">db</text><text x="553.39" y="158.30" font-size="7.80" font-style="italic">0</text>
<line x1="644.40" y1="149.40" x2="671.40" y2="149.40" stroke="#000" stroke-width="1.4" stroke-dasharray="6.2 4.2"/>
<text x="676.40" y="153.70" font-size="12.20" font-style="italic">Q</text><text x="686.19" y="148.00" font-size="7.80" font-style="italic">db*</text><text x="686.19" y="158.30" font-size="7.80" font-style="italic">0</text>
<line x1="511.80" y1="170.10" x2="540.20" y2="170.10" stroke="#ee2229" stroke-width="1.4"/>
<text x="543.60" y="174.40" font-size="12.20" font-style="italic">Q</text><text x="553.39" y="168.70" font-size="7.80" font-style="italic">db</text><text x="553.39" y="179.00" font-size="7.80" font-style="italic">1</text>
<line x1="644.40" y1="170.10" x2="671.40" y2="170.10" stroke="#ee2229" stroke-width="1.4" stroke-dasharray="6.2 4.2"/>
<text x="676.40" y="174.40" font-size="12.20" font-style="italic">Q</text><text x="686.19" y="168.70" font-size="7.80" font-style="italic">db*</text><text x="686.19" y="179.00" font-size="7.80" font-style="italic">1</text>
<line x1="511.80" y1="190.90" x2="540.20" y2="190.90" stroke="#3345a7" stroke-width="1.4"/>
<text x="543.60" y="195.20" font-size="12.20" font-style="italic">Q</text><text x="553.39" y="189.50" font-size="7.80" font-style="italic">db</text><text x="553.39" y="199.80" font-size="7.80" font-style="italic">2</text>
<line x1="644.40" y1="190.90" x2="671.40" y2="190.90" stroke="#3345a7" stroke-width="1.4" stroke-dasharray="6.2 4.2"/>
<text x="676.40" y="195.20" font-size="12.20" font-style="italic">Q</text><text x="686.19" y="189.50" font-size="7.80" font-style="italic">db*</text><text x="686.19" y="199.80" font-size="7.80" font-style="italic">2</text>
</g>
<g id="panelc" font-family="Liberation Sans, sans-serif" fill="#000">
<clipPath id="cc"><rect x="45.6" y="244.6" width="294.9" height="275.5"/></clipPath>
<g clip-path="url(#cc)" fill="none" stroke-width="1.7" stroke-linejoin="round">
<path d="M45.60,505.40 C46.67,505.42 49.67,505.45 52.00,505.50 C54.33,505.55 57.10,505.60 59.60,505.70 C62.10,505.80 64.38,505.97 67.00,506.10 C69.62,506.23 72.80,506.33 75.30,506.50 C77.80,506.67 79.72,506.93 82.00,507.10 C84.28,507.27 87.17,507.52 89.00,507.50 C90.83,507.48 91.68,507.30 93.00,507.00 C94.32,506.70 95.73,506.23 96.90,505.70 C98.07,505.17 99.03,504.55 100.00,503.80 C100.97,503.05 101.77,502.28 102.70,501.20 C103.63,500.12 104.62,498.77 105.60,497.30 C106.58,495.83 107.62,494.28 108.60,492.40 C109.58,490.52 110.52,488.30 111.50,486.00 C112.48,483.70 113.50,481.23 114.50,478.60 C115.50,475.97 116.52,473.13 117.50,470.20 C118.48,467.27 119.43,464.40 120.40,461.00 C121.37,457.60 122.32,453.72 123.30,449.80 C124.28,445.88 125.32,441.72 126.30,437.50 C127.28,433.28 128.22,429.08 129.20,424.50 C130.18,419.92 131.08,415.62 132.20,410.00 C133.32,404.38 134.77,396.05 135.90,390.80 C137.03,385.55 138.02,382.10 139.00,378.50 C139.98,374.90 141.00,371.45 141.80,369.20 C142.60,366.95 143.15,366.03 143.80,365.00 C144.45,363.97 145.00,363.12 145.70,363.00 C146.40,362.88 147.12,363.90 148.00,364.30 C148.88,364.70 149.75,365.07 151.00,365.40 C152.25,365.73 154.17,366.03 155.50,366.30 C156.83,366.57 158.02,366.83 159.00,367.00 C159.98,367.17 160.57,367.40 161.40,367.30 C162.23,367.20 163.15,366.92 164.00,366.40 C164.85,365.88 165.63,365.20 166.50,364.20 C167.37,363.20 168.12,362.27 169.20,360.40 C170.28,358.53 171.70,355.78 173.00,353.00 C174.30,350.22 175.83,346.53 177.00,343.70 C178.17,340.87 179.17,338.28 180.00,336.00 C180.83,333.72 181.18,332.27 182.00,330.00 C182.82,327.73 183.90,324.90 184.90,322.40 C185.90,319.90 187.07,316.98 188.00,315.00 C188.93,313.02 189.65,311.57 190.50,310.50 C191.35,309.43 192.18,308.60 193.10,308.60 C194.02,308.60 195.10,309.47 196.00,310.50 C196.90,311.53 197.73,313.15 198.50,314.80 C199.27,316.45 199.60,317.87 200.60,320.40 C201.60,322.93 203.35,327.07 204.50,330.00 C205.65,332.93 206.52,335.38 207.50,338.00 C208.48,340.62 209.43,343.32 210.40,345.70 C211.37,348.08 212.32,350.33 213.30,352.30 C214.28,354.27 215.18,356.05 216.30,357.50 C217.42,358.95 218.70,360.18 220.00,361.00 C221.30,361.82 222.77,362.37 224.10,362.40 C225.43,362.43 226.68,361.70 228.00,361.20 C229.32,360.70 230.83,359.93 232.00,359.40 C233.17,358.87 234.03,358.32 235.00,358.00 C235.97,357.68 236.83,357.43 237.80,357.50 C238.77,357.57 239.82,357.73 240.80,358.40 C241.78,359.07 242.72,359.65 243.70,361.50 C244.68,363.35 245.72,365.92 246.70,369.50 C247.68,373.08 248.63,378.58 249.60,383.00 C250.57,387.42 251.52,391.83 252.50,396.00 C253.48,400.17 254.67,404.27 255.50,408.00 C256.33,411.73 256.75,414.98 257.50,418.40 C258.25,421.82 259.08,424.87 260.00,428.50 C260.92,432.13 261.95,436.70 263.00,440.20 C264.05,443.70 265.13,446.12 266.30,449.50 C267.47,452.88 268.72,457.08 270.00,460.50 C271.28,463.92 272.37,466.75 274.00,470.00 C275.63,473.25 277.72,477.10 279.80,480.00 C281.88,482.90 284.15,485.67 286.50,487.40 C288.85,489.13 291.65,490.00 293.90,490.40 C296.15,490.80 297.92,490.15 300.00,489.80 C302.08,489.45 303.90,488.87 306.40,488.30 C308.90,487.73 312.23,487.02 315.00,486.40 C317.77,485.78 320.17,485.23 323.00,484.60 C325.83,483.97 329.08,483.23 332.00,482.60 C334.92,481.97 339.08,481.10 340.50,480.80" stroke="#ee2229"/>
<path d="M45.60,505.40 C46.67,505.42 49.67,505.45 52.00,505.50 C54.33,505.55 57.10,505.60 59.60,505.70 C62.10,505.80 64.38,505.97 67.00,506.10 C69.62,506.23 72.80,506.33 75.30,506.50 C77.80,506.67 79.72,506.93 82.00,507.10 C84.28,507.27 87.17,507.52 89.00,507.50 C90.83,507.48 91.68,507.30 93.00,507.00 C94.32,506.70 95.73,506.23 96.90,505.70 C98.07,505.17 99.03,504.55 100.00,503.80 C100.97,503.05 101.77,502.28 102.70,501.20 C103.63,500.12 104.62,498.77 105.60,497.30 C106.58,495.83 107.62,494.28 108.60,492.40 C109.58,490.52 110.52,488.30 111.50,486.00 C112.48,483.70 113.50,481.23 114.50,478.60 C115.50,475.97 116.52,473.13 117.50,470.20 C118.48,467.27 119.43,464.40 120.40,461.00 C121.37,457.60 122.32,453.72 123.30,449.80 C124.28,445.88 125.32,441.72 126.30,437.50 C127.28,433.28 128.22,429.08 129.20,424.50 C130.18,419.92 131.08,415.62 132.20,410.00 C133.32,404.38 134.77,396.05 135.90,390.80 C137.03,385.55 138.02,382.10 139.00,378.50 C139.98,374.90 141.00,371.40 141.80,369.20 C142.60,367.00 143.15,366.25 143.80,365.30 C144.45,364.35 144.83,363.42 145.70,363.50 C146.57,363.58 147.78,365.05 149.00,365.80 C150.22,366.55 151.67,367.38 153.00,368.00 C154.33,368.62 155.77,369.20 157.00,369.50 C158.23,369.80 159.23,369.95 160.40,369.80 C161.57,369.65 162.90,369.32 164.00,368.60 C165.10,367.88 166.00,366.77 167.00,365.50 C168.00,364.23 168.83,363.08 170.00,361.00 C171.17,358.92 172.67,355.83 174.00,353.00 C175.33,350.17 176.67,347.17 178.00,344.00 C179.33,340.83 180.83,336.92 182.00,334.00 C183.17,331.08 184.00,328.83 185.00,326.50 C186.00,324.17 187.08,321.78 188.00,320.00 C188.92,318.22 189.65,316.78 190.50,315.80 C191.35,314.82 192.18,314.13 193.10,314.10 C194.02,314.07 195.02,314.62 196.00,315.60 C196.98,316.58 198.00,318.18 199.00,320.00 C200.00,321.82 200.92,324.17 202.00,326.50 C203.08,328.83 204.50,331.42 205.50,334.00 C206.50,336.58 207.18,339.40 208.00,342.00 C208.82,344.60 209.52,347.13 210.40,349.60 C211.28,352.07 212.32,354.67 213.30,356.80 C214.28,358.93 215.02,360.83 216.30,362.40 C217.58,363.97 219.37,365.33 221.00,366.20 C222.63,367.07 224.43,367.67 226.10,367.60 C227.77,367.53 229.37,366.47 231.00,365.80 C232.63,365.13 234.57,364.10 235.90,363.60 C237.23,363.10 238.02,362.82 239.00,362.80 C239.98,362.78 240.92,362.67 241.80,363.50 C242.68,364.33 243.57,366.13 244.30,367.80 C245.03,369.47 245.48,370.63 246.20,373.50 C246.92,376.37 247.70,380.78 248.60,385.00 C249.50,389.22 250.62,394.22 251.60,398.80 C252.58,403.38 253.52,407.92 254.50,412.50 C255.48,417.08 256.67,422.38 257.50,426.30 C258.33,430.22 258.82,432.80 259.50,436.00 C260.18,439.20 260.85,442.25 261.60,445.50 C262.35,448.75 263.10,452.08 264.00,455.50 C264.90,458.92 265.92,462.67 267.00,466.00 C268.08,469.33 269.42,472.75 270.50,475.50 C271.58,478.25 272.50,480.37 273.50,482.50 C274.50,484.63 275.33,486.38 276.50,488.30 C277.67,490.22 279.12,492.35 280.50,494.00 C281.88,495.65 283.38,497.12 284.80,498.20 C286.22,499.28 287.62,500.00 289.00,500.50 C290.38,501.00 291.27,501.15 293.10,501.20 C294.93,501.25 297.78,501.02 300.00,500.80 C302.22,500.58 303.90,500.23 306.40,499.90 C308.90,499.57 312.23,499.17 315.00,498.80 C317.77,498.43 320.17,498.05 323.00,497.70 C325.83,497.35 329.08,497.03 332.00,496.70 C334.92,496.37 339.08,495.87 340.50,495.70" stroke="#ee2229" stroke-dasharray="8.3 5"/>
<path d="M45.60,505.40 C46.67,505.42 49.67,505.45 52.00,505.50 C54.33,505.55 57.10,505.60 59.60,505.70 C62.10,505.80 64.38,505.97 67.00,506.10 C69.62,506.23 72.80,506.33 75.30,506.50 C77.80,506.67 79.72,506.93 82.00,507.10 C84.28,507.27 87.17,507.52 89.00,507.50 C90.83,507.48 91.68,507.30 93.00,507.00 C94.32,506.70 95.73,506.23 96.90,505.70 C98.07,505.17 99.03,504.55 100.00,503.80 C100.97,503.05 101.77,502.28 102.70,501.20 C103.63,500.12 104.62,498.77 105.60,497.30 C106.58,495.83 107.62,494.28 108.60,492.40 C109.58,490.52 110.52,488.30 111.50,486.00 C112.48,483.70 113.50,481.23 114.50,478.60 C115.50,475.97 116.52,473.13 117.50,470.20 C118.48,467.27 119.43,464.40 120.40,461.00 C121.37,457.60 122.32,453.72 123.30,449.80 C124.28,445.88 125.32,441.72 126.30,437.50 C127.28,433.28 128.22,429.08 129.20,424.50 C130.18,419.92 131.08,415.62 132.20,410.00 C133.32,404.38 134.77,396.05 135.90,390.80 C137.03,385.55 138.02,382.10 139.00,378.50 C139.98,374.90 141.00,371.32 141.80,369.20 C142.60,367.08 143.15,366.62 143.80,365.80 C144.45,364.98 145.00,364.62 145.70,364.30 C146.40,363.98 147.02,364.00 148.00,363.90 C148.98,363.80 150.35,363.82 151.60,363.70 C152.85,363.58 154.20,363.42 155.50,363.20 C156.80,362.98 158.23,362.85 159.40,362.40 C160.57,361.95 161.52,361.32 162.50,360.50 C163.48,359.68 164.18,359.33 165.30,357.50 C166.42,355.67 167.90,352.12 169.20,349.50 C170.50,346.88 171.80,345.05 173.10,341.80 C174.40,338.55 176.02,333.13 177.00,330.00 C177.98,326.87 178.17,326.00 179.00,323.00 C179.83,320.00 181.00,315.50 182.00,312.00 C183.00,308.50 183.87,305.42 185.00,302.00 C186.13,298.58 187.72,294.08 188.80,291.50 C189.88,288.92 190.52,287.63 191.50,286.50 C192.48,285.37 193.62,284.62 194.70,284.70 C195.78,284.78 196.70,285.30 198.00,287.00 C199.30,288.70 200.92,291.90 202.50,294.90 C204.08,297.90 205.85,301.73 207.50,305.00 C209.15,308.27 210.82,311.97 212.40,314.50 C213.98,317.03 215.37,318.83 217.00,320.20 C218.63,321.57 220.53,322.60 222.20,322.70 C223.87,322.80 225.37,321.83 227.00,320.80 C228.63,319.77 230.50,317.88 232.00,316.50 C233.50,315.12 234.70,313.48 236.00,312.50 C237.30,311.52 238.55,310.55 239.80,310.60 C241.05,310.65 242.35,311.50 243.50,312.80 C244.65,314.10 245.85,316.03 246.70,318.40 C247.55,320.77 247.95,323.90 248.60,327.00 C249.25,330.10 249.87,333.50 250.60,337.00 C251.33,340.50 252.18,344.42 253.00,348.00 C253.82,351.58 254.75,355.42 255.50,358.50 C256.25,361.58 256.75,363.50 257.50,366.50 C258.25,369.50 259.17,373.08 260.00,376.50 C260.83,379.92 261.62,383.42 262.50,387.00 C263.38,390.58 264.22,394.00 265.30,398.00 C266.38,402.00 267.70,406.83 269.00,411.00 C270.30,415.17 271.60,419.42 273.10,423.00 C274.60,426.58 276.37,429.92 278.00,432.50 C279.63,435.08 281.23,437.00 282.90,438.50 C284.57,440.00 286.37,440.85 288.00,441.50 C289.63,442.15 290.70,442.38 292.70,442.40 C294.70,442.42 297.38,442.00 300.00,441.60 C302.62,441.20 305.73,440.58 308.40,440.00 C311.07,439.42 313.38,438.75 316.00,438.10 C318.62,437.45 321.43,436.73 324.10,436.10 C326.77,435.47 329.27,434.90 332.00,434.30 C334.73,433.70 339.08,432.80 340.50,432.50" stroke="#3345a7"/>
<path d="M45.60,505.40 C46.67,505.42 49.67,505.45 52.00,505.50 C54.33,505.55 57.10,505.60 59.60,505.70 C62.10,505.80 64.38,505.97 67.00,506.10 C69.62,506.23 72.80,506.33 75.30,506.50 C77.80,506.67 79.72,506.93 82.00,507.10 C84.28,507.27 87.17,507.52 89.00,507.50 C90.83,507.48 91.68,507.30 93.00,507.00 C94.32,506.70 95.73,506.23 96.90,505.70 C98.07,505.17 99.03,504.55 100.00,503.80 C100.97,503.05 101.77,502.28 102.70,501.20 C103.63,500.12 104.62,498.77 105.60,497.30 C106.58,495.83 107.62,494.28 108.60,492.40 C109.58,490.52 110.52,488.30 111.50,486.00 C112.48,483.70 113.50,481.23 114.50,478.60 C115.50,475.97 116.52,473.13 117.50,470.20 C118.48,467.27 119.43,464.40 120.40,461.00 C121.37,457.60 122.32,453.72 123.30,449.80 C124.28,445.88 125.32,441.72 126.30,437.50 C127.28,433.28 128.22,429.08 129.20,424.50 C130.18,419.92 131.08,415.62 132.20,410.00 C133.32,404.38 134.77,396.05 135.90,390.80 C137.03,385.55 138.02,382.10 139.00,378.50 C139.98,374.90 141.00,371.32 141.80,369.20 C142.60,367.08 143.15,366.62 143.80,365.80 C144.45,364.98 145.00,364.62 145.70,364.30 C146.40,363.98 147.02,364.00 148.00,363.90 C148.98,363.80 150.35,363.82 151.60,363.70 C152.85,363.58 154.20,363.42 155.50,363.20 C156.80,362.98 158.23,362.85 159.40,362.40 C160.57,361.95 161.52,361.32 162.50,360.50 C163.48,359.68 164.18,359.33 165.30,357.50 C166.42,355.67 167.90,352.12 169.20,349.50 C170.50,346.88 171.80,344.97 173.10,341.80 C174.40,338.63 176.02,333.55 177.00,330.50 C177.98,327.45 178.17,326.42 179.00,323.50 C179.83,320.58 181.00,316.42 182.00,313.00 C183.00,309.58 183.87,306.42 185.00,303.00 C186.13,299.58 187.72,295.03 188.80,292.50 C189.88,289.97 190.52,288.88 191.50,287.80 C192.48,286.72 193.62,285.93 194.70,286.00 C195.78,286.07 196.70,286.53 198.00,288.20 C199.30,289.87 200.92,293.03 202.50,296.00 C204.08,298.97 205.85,302.83 207.50,306.00 C209.15,309.17 210.82,312.57 212.40,315.00 C213.98,317.43 215.37,319.28 217.00,320.60 C218.63,321.92 220.53,322.83 222.20,322.90 C223.87,322.97 225.37,321.98 227.00,321.00 C228.63,320.02 230.50,318.28 232.00,317.00 C233.50,315.72 234.70,314.20 236.00,313.30 C237.30,312.40 238.55,311.48 239.80,311.60 C241.05,311.72 242.35,312.60 243.50,314.00 C244.65,315.40 245.85,317.50 246.70,320.00 C247.55,322.50 247.95,325.83 248.60,329.00 C249.25,332.17 249.87,335.42 250.60,339.00 C251.33,342.58 252.18,346.83 253.00,350.50 C253.82,354.17 254.75,357.83 255.50,361.00 C256.25,364.17 256.85,366.67 257.50,369.50 C258.15,372.33 258.57,374.33 259.40,378.00 C260.23,381.67 261.52,387.25 262.50,391.50 C263.48,395.75 264.50,400.17 265.30,403.50 C266.10,406.83 266.35,408.08 267.30,411.50 C268.25,414.92 269.70,420.33 271.00,424.00 C272.30,427.67 273.77,430.83 275.10,433.50 C276.43,436.17 277.70,438.25 279.00,440.00 C280.30,441.75 281.40,442.87 282.90,444.00 C284.40,445.13 286.37,446.17 288.00,446.80 C289.63,447.43 290.70,447.67 292.70,447.80 C294.70,447.93 297.38,447.75 300.00,447.60 C302.62,447.45 305.73,447.18 308.40,446.90 C311.07,446.62 313.38,446.23 316.00,445.90 C318.62,445.57 321.43,445.23 324.10,444.90 C326.77,444.57 329.27,444.23 332.00,443.90 C334.73,443.57 339.08,443.07 340.50,442.90" stroke="#3345a7" stroke-dasharray="8.3 5"/>
<path d="M45.60,505.40 C46.67,505.42 49.67,505.45 52.00,505.50 C54.33,505.55 57.10,505.60 59.60,505.70 C62.10,505.80 64.38,505.97 67.00,506.10 C69.62,506.23 72.80,506.33 75.30,506.50 C77.80,506.67 79.72,506.93 82.00,507.10 C84.28,507.27 87.17,507.52 89.00,507.50 C90.83,507.48 91.68,507.30 93.00,507.00 C94.32,506.70 95.73,506.23 96.90,505.70 C98.07,505.17 99.03,504.55 100.00,503.80 C100.97,503.05 101.77,502.28 102.70,501.20 C103.63,500.12 104.62,498.77 105.60,497.30 C106.58,495.83 107.62,494.28 108.60,492.40 C109.58,490.52 110.52,488.30 111.50,486.00 C112.48,483.70 113.50,481.23 114.50,478.60 C115.50,475.97 116.52,473.13 117.50,470.20 C118.48,467.27 119.43,464.40 120.40,461.00 C121.37,457.60 122.32,453.72 123.30,449.80 C124.28,445.88 125.32,441.72 126.30,437.50 C127.28,433.28 128.22,429.08 129.20,424.50 C130.18,419.92 131.08,415.62 132.20,410.00 C133.32,404.38 134.77,396.05 135.90,390.80 C137.03,385.55 138.02,382.10 139.00,378.50 C139.98,374.90 141.00,371.53 141.80,369.20 C142.60,366.87 143.15,365.80 143.80,364.50 C144.45,363.20 144.92,362.23 145.70,361.40 C146.48,360.57 147.52,360.07 148.50,359.50 C149.48,358.93 150.60,358.47 151.60,358.00 C152.60,357.53 153.52,357.18 154.50,356.70 C155.48,356.22 156.50,355.80 157.50,355.10 C158.50,354.40 159.53,353.58 160.50,352.50 C161.47,351.42 162.33,350.18 163.30,348.60 C164.27,347.02 165.32,345.12 166.30,343.00 C167.28,340.88 168.32,338.07 169.20,335.90 C170.08,333.73 170.62,332.92 171.60,330.00 C172.58,327.08 173.87,322.82 175.10,318.40 C176.33,313.98 177.70,308.40 179.00,303.50 C180.30,298.60 181.73,293.42 182.90,289.00 C184.07,284.58 185.02,280.58 186.00,277.00 C186.98,273.42 187.80,270.20 188.80,267.50 C189.80,264.80 190.85,262.28 192.00,260.80 C193.15,259.32 194.45,258.57 195.70,258.60 C196.95,258.63 198.03,259.52 199.50,261.00 C200.97,262.48 203.00,265.45 204.50,267.50 C206.00,269.55 207.18,271.52 208.50,273.30 C209.82,275.08 211.07,276.83 212.40,278.20 C213.73,279.57 215.20,280.75 216.50,281.50 C217.80,282.25 218.78,282.98 220.20,282.70 C221.62,282.42 223.37,281.37 225.00,279.80 C226.63,278.23 228.33,275.38 230.00,273.30 C231.67,271.22 233.37,268.77 235.00,267.30 C236.63,265.83 238.30,264.63 239.80,264.50 C241.30,264.37 242.70,265.18 244.00,266.50 C245.30,267.82 246.52,269.82 247.60,272.40 C248.68,274.98 249.52,278.25 250.50,282.00 C251.48,285.75 252.50,290.23 253.50,294.90 C254.50,299.57 255.52,304.77 256.50,310.00 C257.48,315.23 258.27,321.05 259.40,326.30 C260.53,331.55 262.20,337.22 263.30,341.50 C264.40,345.78 265.02,348.33 266.00,352.00 C266.98,355.67 268.03,359.92 269.20,363.50 C270.37,367.08 271.68,370.55 273.00,373.50 C274.32,376.45 275.60,378.95 277.10,381.20 C278.60,383.45 280.37,385.43 282.00,387.00 C283.63,388.57 285.40,389.77 286.90,390.60 C288.40,391.43 289.70,391.70 291.00,392.00 C292.30,392.30 293.03,392.48 294.70,392.40 C296.37,392.32 298.72,391.90 301.00,391.50 C303.28,391.10 305.90,390.57 308.40,390.00 C310.90,389.43 313.38,388.75 316.00,388.10 C318.62,387.45 321.43,386.73 324.10,386.10 C326.77,385.47 329.27,384.90 332.00,384.30 C334.73,383.70 339.08,382.80 340.50,382.50" stroke="#bb3fa3"/>
<path d="M45.60,505.40 C46.67,505.42 49.67,505.45 52.00,505.50 C54.33,505.55 57.10,505.60 59.60,505.70 C62.10,505.80 64.38,505.97 67.00,506.10 C69.62,506.23 72.80,506.33 75.30,506.50 C77.80,506.67 79.72,506.93 82.00,507.10 C84.28,507.27 87.17,507.52 89.00,507.50 C90.83,507.48 91.68,507.30 93.00,507.00 C94.32,506.70 95.73,506.23 96.90,505.70 C98.07,505.17 99.03,504.55 100.00,503.80 C100.97,503.05 101.77,502.28 102.70,501.20 C103.63,500.12 104.62,498.77 105.60,497.30 C106.58,495.83 107.62,494.28 108.60,492.40 C109.58,490.52 110.52,488.30 111.50,486.00 C112.48,483.70 113.50,481.23 114.50,478.60 C115.50,475.97 116.52,473.13 117.50,470.20 C118.48,467.27 119.43,464.40 120.40,461.00 C121.37,457.60 122.32,453.72 123.30,449.80 C124.28,445.88 125.32,441.72 126.30,437.50 C127.28,433.28 128.22,429.08 129.20,424.50 C130.18,419.92 131.08,415.62 132.20,410.00 C133.32,404.38 134.77,396.05 135.90,390.80 C137.03,385.55 138.02,382.10 139.00,378.50 C139.98,374.90 141.00,371.70 141.80,369.20 C142.60,366.70 143.15,365.00 143.80,363.50 C144.45,362.00 144.92,361.12 145.70,360.20 C146.48,359.28 147.52,358.65 148.50,358.00 C149.48,357.35 150.60,356.83 151.60,356.30 C152.60,355.77 153.52,355.35 154.50,354.80 C155.48,354.25 156.50,353.77 157.50,353.00 C158.50,352.23 159.53,351.37 160.50,350.20 C161.47,349.03 162.33,347.62 163.30,346.00 C164.27,344.38 165.32,342.58 166.30,340.50 C167.28,338.42 168.32,335.67 169.20,333.50 C170.08,331.33 170.62,330.42 171.60,327.50 C172.58,324.58 173.87,320.42 175.10,316.00 C176.33,311.58 177.70,305.92 179.00,301.00 C180.30,296.08 181.73,290.92 182.90,286.50 C184.07,282.08 185.02,278.08 186.00,274.50 C186.98,270.92 187.80,267.70 188.80,265.00 C189.80,262.30 190.85,259.80 192.00,258.30 C193.15,256.80 194.45,256.00 195.70,256.00 C196.95,256.00 198.03,256.88 199.50,258.30 C200.97,259.72 203.00,262.55 204.50,264.50 C206.00,266.45 207.18,268.30 208.50,270.00 C209.82,271.70 211.15,273.45 212.40,274.70 C213.65,275.95 214.87,276.92 216.00,277.50 C217.13,278.08 217.87,278.62 219.20,278.20 C220.53,277.78 222.37,276.70 224.00,275.00 C225.63,273.30 227.33,270.25 229.00,268.00 C230.67,265.75 232.50,263.17 234.00,261.50 C235.50,259.83 236.70,258.70 238.00,258.00 C239.30,257.30 240.55,256.97 241.80,257.30 C243.05,257.63 244.38,258.38 245.50,260.00 C246.62,261.62 247.48,263.80 248.50,267.00 C249.52,270.20 250.60,274.87 251.60,279.20 C252.60,283.53 253.43,287.87 254.50,293.00 C255.57,298.13 256.83,304.17 258.00,310.00 C259.17,315.83 260.28,322.02 261.50,328.00 C262.72,333.98 264.05,340.65 265.30,345.90 C266.55,351.15 267.70,355.25 269.00,359.50 C270.30,363.75 271.77,368.15 273.10,371.40 C274.43,374.65 275.68,376.88 277.00,379.00 C278.32,381.12 279.67,382.77 281.00,384.10 C282.33,385.43 283.70,386.25 285.00,387.00 C286.30,387.75 287.30,388.33 288.80,388.60 C290.30,388.87 292.37,388.70 294.00,388.60 C295.63,388.50 296.27,388.28 298.60,388.00 C300.93,387.72 304.73,387.32 308.00,386.90 C311.27,386.48 314.70,386.03 318.20,385.50 C321.70,384.97 325.28,384.32 329.00,383.70 C332.72,383.08 338.58,382.12 340.50,381.80" stroke="#bb3fa3" stroke-dasharray="8.3 5"/>
</g>
<rect x="45.60" y="244.60" width="294.90" height="275.50" fill="none" stroke="#000" stroke-width="1.3"/>
<g stroke="#000" stroke-width="1.2"><line x1="82.46" y1="520.10" x2="82.46" y2="517.10" /><line x1="82.46" y1="244.60" x2="82.46" y2="247.60" /><line x1="119.32" y1="520.10" x2="119.32" y2="514.50" /><line x1="119.32" y1="244.60" x2="119.32" y2="250.20" /><line x1="156.19" y1="520.10" x2="156.19" y2="517.10" /><line x1="156.19" y1="244.60" x2="156.19" y2="247.60" /><line x1="193.05" y1="520.10" x2="193.05" y2="514.50" /><line x1="193.05" y1="244.60" x2="193.05" y2="250.20" /><line x1="229.91" y1="520.10" x2="229.91" y2="517.10" /><line x1="229.91" y1="244.60" x2="229.91" y2="247.60" /><line x1="266.77" y1="520.10" x2="266.77" y2="514.50" /><line x1="266.77" y1="244.60" x2="266.77" y2="250.20" /><line x1="303.64" y1="520.10" x2="303.64" y2="517.10" /><line x1="303.64" y1="244.60" x2="303.64" y2="247.60" /><line x1="45.60" y1="505.40" x2="51.20" y2="505.40" /><line x1="340.50" y1="505.40" x2="334.90" y2="505.40" /><line x1="45.60" y1="476.36" x2="48.60" y2="476.36" /><line x1="340.50" y1="476.36" x2="337.50" y2="476.36" /><line x1="45.60" y1="447.32" x2="51.20" y2="447.32" /><line x1="340.50" y1="447.32" x2="334.90" y2="447.32" /><line x1="45.60" y1="418.28" x2="48.60" y2="418.28" /><line x1="340.50" y1="418.28" x2="337.50" y2="418.28" /><line x1="45.60" y1="389.24" x2="51.20" y2="389.24" /><line x1="340.50" y1="389.24" x2="334.90" y2="389.24" /><line x1="45.60" y1="360.20" x2="48.60" y2="360.20" /><line x1="340.50" y1="360.20" x2="337.50" y2="360.20" /><line x1="45.60" y1="331.16" x2="51.20" y2="331.16" /><line x1="340.50" y1="331.16" x2="334.90" y2="331.16" /><line x1="45.60" y1="302.12" x2="48.60" y2="302.12" /><line x1="340.50" y1="302.12" x2="337.50" y2="302.12" /><line x1="45.60" y1="273.08" x2="51.20" y2="273.08" /><line x1="340.50" y1="273.08" x2="334.90" y2="273.08" /></g>
<text x="43.60" y="538.40" font-size="15.40" text-anchor="middle" >-4</text>
<text x="117.32" y="538.40" font-size="15.40" text-anchor="middle" >-2</text>
<text x="193.05" y="538.40" font-size="15.40" text-anchor="middle" >0</text>
<text x="266.77" y="538.40" font-size="15.40" text-anchor="middle" >2</text>
<text x="340.50" y="538.40" font-size="15.40" text-anchor="middle" >4</text>
<text x="39.60" y="510.40" font-size="15.40" text-anchor="end" >0.0</text>
<text x="39.60" y="452.32" font-size="15.40" text-anchor="end" >0.2</text>
<text x="39.60" y="394.24" font-size="15.40" text-anchor="end" >0.4</text>
<text x="39.60" y="336.16" font-size="15.40" text-anchor="end" >0.6</text>
<text x="39.60" y="278.08" font-size="15.40" text-anchor="end" >0.8</text>
<text x="193.30" y="553.20" font-size="17.60" text-anchor="middle" >z (nm)</text>
<g transform="translate(15.6,375.9) rotate(-90)"><text x="0" y="0" font-size="17.8" text-anchor="middle">ψ(z) (V)</text></g>
<text x="3.80" y="271.00" font-size="22.60" text-anchor="start" >c)</text>
<line x1="60.60" y1="266.80" x2="94.80" y2="266.80" stroke="#ee2229" stroke-width="1.8" />
<text x="98.40" y="271.20" font-size="14.20" font-style="italic">Q</text><text x="109.75" y="264.50" font-size="9.20" font-style="italic">db</text><text x="109.75" y="277.00" font-size="9.20" font-style="italic">0</text>
<line x1="60.60" y1="291.30" x2="94.80" y2="291.30" stroke="#ee2229" stroke-width="1.8" stroke-dasharray="7 6.6"/>
<text x="98.40" y="295.70" font-size="14.20" font-style="italic">Q</text><text x="109.75" y="289.00" font-size="9.20" font-style="italic">db*</text><text x="109.75" y="301.50" font-size="9.20" font-style="italic">0</text>
<line x1="60.60" y1="316.00" x2="94.80" y2="316.00" stroke="#3345a7" stroke-width="1.8" />
<text x="98.40" y="320.40" font-size="14.20" font-style="italic">Q</text><text x="109.75" y="313.70" font-size="9.20" font-style="italic">db</text><text x="109.75" y="326.20" font-size="9.20" font-style="italic">1</text>
<line x1="60.60" y1="340.40" x2="94.80" y2="340.40" stroke="#3345a7" stroke-width="1.8" stroke-dasharray="7 6.6"/>
<text x="98.40" y="344.80" font-size="14.20" font-style="italic">Q</text><text x="109.75" y="338.10" font-size="9.20" font-style="italic">db*</text><text x="109.75" y="350.60" font-size="9.20" font-style="italic">1</text>
<line x1="60.60" y1="364.70" x2="94.80" y2="364.70" stroke="#bb3fa3" stroke-width="1.8" />
<text x="98.40" y="369.10" font-size="14.20" font-style="italic">Q</text><text x="109.75" y="362.40" font-size="9.20" font-style="italic">db</text><text x="109.75" y="374.90" font-size="9.20" font-style="italic">2</text>
<line x1="60.60" y1="389.00" x2="94.80" y2="389.00" stroke="#bb3fa3" stroke-width="1.8" stroke-dasharray="7 6.6"/>
<text x="98.40" y="393.40" font-size="14.20" font-style="italic">Q</text><text x="109.75" y="386.70" font-size="9.20" font-style="italic">db*</text><text x="109.75" y="399.20" font-size="9.20" font-style="italic">2</text>
</g>
<g id="paneld" font-family="Liberation Sans, sans-serif" fill="#000">
<line x1="479.88" y1="481.17" x2="637.43" y2="291.83" stroke="#ee2229" stroke-width="1.6"/>
<line x1="479.88" y1="506.22" x2="637.43" y2="292.11" stroke="#3345a7" stroke-width="1.6"/>
<rect x="476.57" y="476.77" width="6.6" height="6.6" fill="#ee2229"/>
<rect x="555.35" y="382.65" width="6.6" height="6.6" fill="#ee2229"/>
<rect x="634.93" y="290.74" width="6.6" height="6.6" fill="#ee2229"/>
<circle cx="479.88" cy="504.29" r="3.7" fill="#3345a7"/>
<circle cx="558.65" cy="404.12" r="3.7" fill="#3345a7"/>
<circle cx="637.43" cy="290.73" r="3.7" fill="#3345a7"/>
<rect x="401.10" y="244.50" width="315.10" height="275.20" fill="none" stroke="#000" stroke-width="1.3"/>
<g stroke="#000" stroke-width="1.2"><line x1="440.49" y1="519.70" x2="440.49" y2="516.70" /><line x1="440.49" y1="244.50" x2="440.49" y2="247.50" /><line x1="479.88" y1="519.70" x2="479.88" y2="514.10" /><line x1="479.88" y1="244.50" x2="479.88" y2="250.10" /><line x1="519.26" y1="519.70" x2="519.26" y2="516.70" /><line x1="519.26" y1="244.50" x2="519.26" y2="247.50" /><line x1="558.65" y1="519.70" x2="558.65" y2="514.10" /><line x1="558.65" y1="244.50" x2="558.65" y2="250.10" /><line x1="598.04" y1="519.70" x2="598.04" y2="516.70" /><line x1="598.04" y1="244.50" x2="598.04" y2="247.50" /><line x1="637.43" y1="519.70" x2="637.43" y2="514.10" /><line x1="637.43" y1="244.50" x2="637.43" y2="250.10" /><line x1="676.81" y1="519.70" x2="676.81" y2="516.70" /><line x1="676.81" y1="244.50" x2="676.81" y2="247.50" /><line x1="401.10" y1="492.18" x2="404.10" y2="492.18" /><line x1="716.20" y1="492.18" x2="713.20" y2="492.18" /><line x1="401.10" y1="464.66" x2="406.70" y2="464.66" /><line x1="716.20" y1="464.66" x2="710.60" y2="464.66" /><line x1="401.10" y1="437.14" x2="404.10" y2="437.14" /><line x1="716.20" y1="437.14" x2="713.20" y2="437.14" /><line x1="401.10" y1="409.62" x2="406.70" y2="409.62" /><line x1="716.20" y1="409.62" x2="710.60" y2="409.62" /><line x1="401.10" y1="382.10" x2="404.10" y2="382.10" /><line x1="716.20" y1="382.10" x2="713.20" y2="382.10" /><line x1="401.10" y1="354.58" x2="406.70" y2="354.58" /><line x1="716.20" y1="354.58" x2="710.60" y2="354.58" /><line x1="401.10" y1="327.06" x2="404.10" y2="327.06" /><line x1="716.20" y1="327.06" x2="713.20" y2="327.06" /><line x1="401.10" y1="299.54" x2="406.70" y2="299.54" /><line x1="716.20" y1="299.54" x2="710.60" y2="299.54" /><line x1="401.10" y1="272.02" x2="404.10" y2="272.02" /><line x1="716.20" y1="272.02" x2="713.20" y2="272.02" /></g>
<text x="399.10" y="538.90" font-size="15.50" text-anchor="middle" >-1</text>
<text x="479.88" y="538.90" font-size="15.50" text-anchor="middle" >0</text>
<text x="558.65" y="538.90" font-size="15.50" text-anchor="middle" >1</text>
<text x="637.43" y="538.90" font-size="15.50" text-anchor="middle" >2</text>
<text x="716.20" y="538.90" font-size="15.50" text-anchor="middle" >3</text>
<text x="394.20" y="525.10" font-size="15.50" text-anchor="end" >0.0</text>
<text x="394.20" y="470.06" font-size="15.50" text-anchor="end" >0.1</text>
<text x="394.20" y="415.02" font-size="15.50" text-anchor="end" >0.2</text>
<text x="394.20" y="359.98" font-size="15.50" text-anchor="end" >0.3</text>
<text x="394.20" y="304.94" font-size="15.50" text-anchor="end" >0.4</text>
<text x="394.20" y="249.90" font-size="15.50" text-anchor="end" >0.5</text>
<text x="558.00" y="555.50" font-size="17.60" text-anchor="middle" >ΔQ (e)</text>
<g transform="translate(362.6,381.7) rotate(-90)"><text x="0" y="0" font-size="18.2" text-anchor="middle">V<tspan font-size="11.5" dy="6.5">m</tspan><tspan dy="-6.5"> (V)</tspan></text></g>
<text x="353.00" y="277.50" font-size="24.50" text-anchor="start" >d)</text>
<rect x="435.0" y="279.3" width="6.6" height="6.6" fill="#ee2229"/>
<circle cx="438.3" cy="301.8" r="3.7" fill="#3345a7"/>
<text x="461.00" y="287.90" font-size="15.65" text-anchor="start" >POPC/POPS/PIP2</text>
<text x="461.00" y="306.70" font-size="15.65" text-anchor="start" >POPC/POPS</text>
<text x="448.50" y="366.50" font-size="15.70" text-anchor="start" fill="#ee2229">Slope=0.174 V/e</text>
<text x="561.50" y="424.50" font-size="15.70" text-anchor="start" fill="#3345a7">Slope=0.194 V/e</text>
</g>
</svg>
</body></html>
